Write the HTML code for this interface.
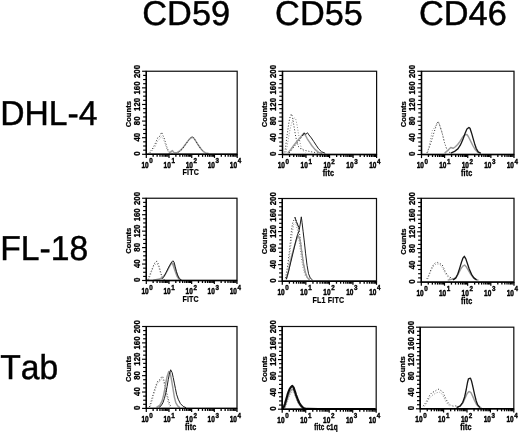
<!DOCTYPE html>
<html><head><meta charset="utf-8"><title>Figure</title>
<style>
html,body{margin:0;padding:0;background:#fff;}
body{width:520px;height:432px;overflow:hidden;}
svg{display:block;}
text{font-family:"Liberation Sans",sans-serif;fill:#000;}
.big{font-kerning:none;text-rendering:geometricPrecision;}
.tk{font-size:7.6px;font-weight:bold;stroke:#000;stroke-width:0.25px;}
.tx{font-size:8.6px;font-weight:bold;stroke:#000;stroke-width:0.45px;}
.sp{font-size:7.5px;font-weight:bold;stroke:#000;stroke-width:0.4px;}
.xl{font-weight:bold;stroke:#000;letter-spacing:0.2px;}
</style></head><body>
<svg width="520" height="432" viewBox="0 0 520 432">
<defs>
<filter id="bp" x="0" y="0" width="520" height="432" filterUnits="userSpaceOnUse"><feGaussianBlur stdDeviation="0.38"/></filter>
<filter id="bl" x="0" y="0" width="520" height="432" filterUnits="userSpaceOnUse"><feGaussianBlur stdDeviation="0.3"/></filter>
</defs>
<rect width="520" height="432" fill="#fff"/>
<g filter="url(#bp)">
<path d="M148.62,153.38 L150.92,150.62 L153.23,147.54 L155.54,142.92 L157.85,137.54 L159.38,136.77 L160.62,134.46 L161.69,132.15 L162.77,135.23 L164.00,137.54 L165.23,141.38 L166.77,146.77 L168.31,150.62 L170.15,152.62 L172.46,153.38" fill="none" stroke="#2e2e2e" stroke-width="1.0" stroke-dasharray="1.0 1.9" stroke-linejoin="round"/>
<path d="M150.15,152.92 L152.46,150.15 L155.08,146.77 L157.54,141.38 L159.38,139.08 L161.23,136.77 L163.08,138.31 L164.77,142.46 L166.31,147.54 L168.00,151.38 L170.15,153.23" fill="none" stroke="#909090" stroke-width="1.0" stroke-dasharray="1.0 1.7" stroke-linejoin="round"/>
<path d="M168.62,153.54 L170.92,151.69 L172.46,150.62 L174.00,152.62 L177.08,152.62 L180.15,150.62 L182.46,148.31 L184.77,145.23 L187.08,142.15 L189.38,139.08 L192.15,137.08 L194.00,138.31 L196.31,141.85 L198.62,145.54 L200.92,148.77 L203.23,151.38 L205.54,152.92 L208.62,153.54" fill="none" stroke="#9a9a9a" stroke-width="1.45" stroke-linejoin="round"/>
<path d="M178.62,152.31 L182.46,148.92 L185.54,144.46 L188.62,140.31 L190.92,137.54 L192.15,136.46 L193.54,137.54 L195.54,140.62 L197.85,144.46 L200.62,148.62 L203.69,152.00" fill="none" stroke="#262626" stroke-width="1.0" stroke-dasharray="1.1 2.0" stroke-linejoin="round"/>
<rect x="146.3" y="71.25" width="90.90" height="83.05" fill="none" stroke="#0a0a0a" stroke-width="1.2"/>
<line x1="146.3" y1="71.25" x2="146.3" y2="154.3" stroke="#000" stroke-width="1.4"/>
<line x1="145.8" y1="154.3" x2="237.2" y2="154.3" stroke="#000" stroke-width="1.4"/>
<line x1="142.10" y1="154.30" x2="146.3" y2="154.30" stroke="#000" stroke-width="1.15"/>
<line x1="143.10" y1="150.15" x2="146.3" y2="150.15" stroke="#000" stroke-width="1.15"/>
<line x1="143.10" y1="146.00" x2="146.3" y2="146.00" stroke="#000" stroke-width="1.15"/>
<line x1="143.10" y1="141.84" x2="146.3" y2="141.84" stroke="#000" stroke-width="1.15"/>
<line x1="142.10" y1="137.69" x2="146.3" y2="137.69" stroke="#000" stroke-width="1.15"/>
<line x1="143.10" y1="133.54" x2="146.3" y2="133.54" stroke="#000" stroke-width="1.15"/>
<line x1="143.10" y1="129.38" x2="146.3" y2="129.38" stroke="#000" stroke-width="1.15"/>
<line x1="143.10" y1="125.23" x2="146.3" y2="125.23" stroke="#000" stroke-width="1.15"/>
<line x1="142.10" y1="121.08" x2="146.3" y2="121.08" stroke="#000" stroke-width="1.15"/>
<line x1="143.10" y1="116.93" x2="146.3" y2="116.93" stroke="#000" stroke-width="1.15"/>
<line x1="143.10" y1="112.78" x2="146.3" y2="112.78" stroke="#000" stroke-width="1.15"/>
<line x1="143.10" y1="108.62" x2="146.3" y2="108.62" stroke="#000" stroke-width="1.15"/>
<line x1="142.10" y1="104.47" x2="146.3" y2="104.47" stroke="#000" stroke-width="1.15"/>
<line x1="143.10" y1="100.32" x2="146.3" y2="100.32" stroke="#000" stroke-width="1.15"/>
<line x1="143.10" y1="96.16" x2="146.3" y2="96.16" stroke="#000" stroke-width="1.15"/>
<line x1="143.10" y1="92.01" x2="146.3" y2="92.01" stroke="#000" stroke-width="1.15"/>
<line x1="142.10" y1="87.86" x2="146.3" y2="87.86" stroke="#000" stroke-width="1.15"/>
<line x1="143.10" y1="83.71" x2="146.3" y2="83.71" stroke="#000" stroke-width="1.15"/>
<line x1="143.10" y1="79.56" x2="146.3" y2="79.56" stroke="#000" stroke-width="1.15"/>
<line x1="143.10" y1="75.40" x2="146.3" y2="75.40" stroke="#000" stroke-width="1.15"/>
<line x1="142.10" y1="71.25" x2="146.3" y2="71.25" stroke="#000" stroke-width="1.15"/>
<text class="tk" transform="translate(139.60,153.70) rotate(-90) scale(1.03,1.12)" text-anchor="middle">0</text>
<text class="tk" transform="translate(139.60,137.27) rotate(-90) scale(1.03,1.12)" text-anchor="middle">40</text>
<text class="tk" transform="translate(139.60,120.84) rotate(-90) scale(1.03,1.12)" text-anchor="middle">80</text>
<text class="tk" transform="translate(139.60,104.41) rotate(-90) scale(1.03,1.12)" text-anchor="middle">120</text>
<text class="tk" transform="translate(139.60,87.98) rotate(-90) scale(1.03,1.12)" text-anchor="middle">160</text>
<text class="tk" transform="translate(139.60,71.55) rotate(-90) scale(1.03,1.12)" text-anchor="middle">200</text>
<text class="tk" transform="translate(130.70,114.18) rotate(-90) scale(1.0,0.9)" text-anchor="middle">Counts</text>
<line x1="146.30" y1="154.3" x2="146.30" y2="157.9" stroke="#000" stroke-width="1.2"/>
<line x1="153.14" y1="154.3" x2="153.14" y2="156.8" stroke="#000" stroke-width="1.3"/>
<line x1="157.14" y1="154.3" x2="157.14" y2="156.8" stroke="#000" stroke-width="1.3"/>
<line x1="159.98" y1="154.3" x2="159.98" y2="156.8" stroke="#000" stroke-width="1.3"/>
<line x1="162.18" y1="154.3" x2="162.18" y2="156.8" stroke="#000" stroke-width="1.3"/>
<line x1="163.98" y1="154.3" x2="163.98" y2="156.8" stroke="#000" stroke-width="1.3"/>
<line x1="165.50" y1="154.3" x2="165.50" y2="156.8" stroke="#000" stroke-width="1.3"/>
<line x1="166.82" y1="154.3" x2="166.82" y2="156.8" stroke="#000" stroke-width="1.3"/>
<line x1="167.99" y1="154.3" x2="167.99" y2="156.8" stroke="#000" stroke-width="1.3"/>
<text class="tx" transform="translate(148.70,167.70) scale(0.76,1)" text-anchor="end">10</text>
<text class="sp" transform="translate(149.30,163.40) scale(0.84,1)">0</text>
<line x1="169.03" y1="154.3" x2="169.03" y2="157.9" stroke="#000" stroke-width="1.2"/>
<line x1="175.87" y1="154.3" x2="175.87" y2="156.8" stroke="#000" stroke-width="1.3"/>
<line x1="179.87" y1="154.3" x2="179.87" y2="156.8" stroke="#000" stroke-width="1.3"/>
<line x1="182.71" y1="154.3" x2="182.71" y2="156.8" stroke="#000" stroke-width="1.3"/>
<line x1="184.91" y1="154.3" x2="184.91" y2="156.8" stroke="#000" stroke-width="1.3"/>
<line x1="186.71" y1="154.3" x2="186.71" y2="156.8" stroke="#000" stroke-width="1.3"/>
<line x1="188.23" y1="154.3" x2="188.23" y2="156.8" stroke="#000" stroke-width="1.3"/>
<line x1="189.55" y1="154.3" x2="189.55" y2="156.8" stroke="#000" stroke-width="1.3"/>
<line x1="190.71" y1="154.3" x2="190.71" y2="156.8" stroke="#000" stroke-width="1.3"/>
<text class="tx" transform="translate(170.80,167.70) scale(0.76,1)" text-anchor="end">10</text>
<text class="sp" transform="translate(171.40,163.40) scale(0.84,1)">1</text>
<line x1="191.75" y1="154.3" x2="191.75" y2="157.9" stroke="#000" stroke-width="1.2"/>
<line x1="198.59" y1="154.3" x2="198.59" y2="156.8" stroke="#000" stroke-width="1.3"/>
<line x1="202.59" y1="154.3" x2="202.59" y2="156.8" stroke="#000" stroke-width="1.3"/>
<line x1="205.43" y1="154.3" x2="205.43" y2="156.8" stroke="#000" stroke-width="1.3"/>
<line x1="207.63" y1="154.3" x2="207.63" y2="156.8" stroke="#000" stroke-width="1.3"/>
<line x1="209.43" y1="154.3" x2="209.43" y2="156.8" stroke="#000" stroke-width="1.3"/>
<line x1="210.95" y1="154.3" x2="210.95" y2="156.8" stroke="#000" stroke-width="1.3"/>
<line x1="212.27" y1="154.3" x2="212.27" y2="156.8" stroke="#000" stroke-width="1.3"/>
<line x1="213.44" y1="154.3" x2="213.44" y2="156.8" stroke="#000" stroke-width="1.3"/>
<text class="tx" transform="translate(192.90,167.70) scale(0.76,1)" text-anchor="end">10</text>
<text class="sp" transform="translate(193.50,163.40) scale(0.84,1)">2</text>
<line x1="214.47" y1="154.3" x2="214.47" y2="157.9" stroke="#000" stroke-width="1.2"/>
<line x1="221.32" y1="154.3" x2="221.32" y2="156.8" stroke="#000" stroke-width="1.3"/>
<line x1="225.32" y1="154.3" x2="225.32" y2="156.8" stroke="#000" stroke-width="1.3"/>
<line x1="228.16" y1="154.3" x2="228.16" y2="156.8" stroke="#000" stroke-width="1.3"/>
<line x1="230.36" y1="154.3" x2="230.36" y2="156.8" stroke="#000" stroke-width="1.3"/>
<line x1="232.16" y1="154.3" x2="232.16" y2="156.8" stroke="#000" stroke-width="1.3"/>
<line x1="233.68" y1="154.3" x2="233.68" y2="156.8" stroke="#000" stroke-width="1.3"/>
<line x1="235.00" y1="154.3" x2="235.00" y2="156.8" stroke="#000" stroke-width="1.3"/>
<line x1="236.16" y1="154.3" x2="236.16" y2="156.8" stroke="#000" stroke-width="1.3"/>
<text class="tx" transform="translate(215.00,167.70) scale(0.76,1)" text-anchor="end">10</text>
<text class="sp" transform="translate(215.60,163.40) scale(0.84,1)">3</text>
<line x1="237.20" y1="154.3" x2="237.20" y2="157.9" stroke="#000" stroke-width="1.2"/>
<text class="tx" transform="translate(237.10,167.70) scale(0.76,1)" text-anchor="end">10</text>
<text class="sp" transform="translate(237.70,163.40) scale(0.84,1)">4</text>
<text class="xl" font-size="8.6" stroke-width="0.2" transform="translate(190.75,175.30) scale(0.825,1)" text-anchor="middle">FITC</text>
<path d="M284.82,152.39 L285.78,145.76 L286.63,138.53 L287.83,130.10 L289.04,121.66 L290.24,116.24 L291.45,113.83 L292.41,116.84 L293.25,121.66 L294.22,127.69 L295.42,134.92 L296.87,142.14 L298.67,146.96 L301.08,149.13 L304.70,150.34 L308.92,151.30 L313.73,152.27 L318.55,152.99" fill="none" stroke="#2e2e2e" stroke-width="1.0" stroke-dasharray="1.0 1.9" stroke-linejoin="round"/>
<path d="M286.02,152.39 L287.23,145.76 L288.43,138.53 L289.64,131.30 L291.08,125.28 L292.65,120.46 L294.46,117.81 L295.66,118.65 L296.87,124.07 L298.07,131.30 L299.28,138.53 L300.72,145.76 L302.29,149.98 L305.30,152.39" fill="none" stroke="#909090" stroke-width="1.0" stroke-dasharray="1.0 1.7" stroke-linejoin="round"/>
<path d="M287.83,152.99 L290.84,149.37 L293.86,145.16 L296.87,141.54 L299.88,137.93 L302.29,134.92 L304.10,133.11 L305.54,135.52 L307.11,138.53 L309.52,142.14 L311.93,145.76 L314.94,149.37 L318.55,152.39 L322.17,153.23" fill="none" stroke="#9a9a9a" stroke-width="1.45" stroke-linejoin="round"/>
<path d="M289.04,152.99 L292.05,149.37 L295.66,144.55 L299.28,140.34 L302.29,136.12 L304.10,133.11" fill="none" stroke="#262626" stroke-width="1.0" stroke-dasharray="1.1 2.0" stroke-linejoin="round"/>
<path d="M302.29,136.12 L304.10,133.11 L305.90,134.31 L307.47,132.75 L308.92,134.92 L311.33,137.93 L313.73,141.54 L316.14,145.16 L318.55,148.77 L321.57,151.78 L325.18,153.23" fill="none" stroke="#1c1c1c" stroke-width="1.0" stroke-linejoin="round"/>
<rect x="282.5" y="71.25" width="94.10" height="83.25" fill="none" stroke="#0a0a0a" stroke-width="1.2"/>
<line x1="282.5" y1="71.25" x2="282.5" y2="154.5" stroke="#000" stroke-width="1.4"/>
<line x1="282.0" y1="154.5" x2="376.6" y2="154.5" stroke="#000" stroke-width="1.4"/>
<line x1="278.30" y1="154.50" x2="282.5" y2="154.50" stroke="#000" stroke-width="1.15"/>
<line x1="279.30" y1="150.34" x2="282.5" y2="150.34" stroke="#000" stroke-width="1.15"/>
<line x1="279.30" y1="146.18" x2="282.5" y2="146.18" stroke="#000" stroke-width="1.15"/>
<line x1="279.30" y1="142.01" x2="282.5" y2="142.01" stroke="#000" stroke-width="1.15"/>
<line x1="278.30" y1="137.85" x2="282.5" y2="137.85" stroke="#000" stroke-width="1.15"/>
<line x1="279.30" y1="133.69" x2="282.5" y2="133.69" stroke="#000" stroke-width="1.15"/>
<line x1="279.30" y1="129.53" x2="282.5" y2="129.53" stroke="#000" stroke-width="1.15"/>
<line x1="279.30" y1="125.36" x2="282.5" y2="125.36" stroke="#000" stroke-width="1.15"/>
<line x1="278.30" y1="121.20" x2="282.5" y2="121.20" stroke="#000" stroke-width="1.15"/>
<line x1="279.30" y1="117.04" x2="282.5" y2="117.04" stroke="#000" stroke-width="1.15"/>
<line x1="279.30" y1="112.88" x2="282.5" y2="112.88" stroke="#000" stroke-width="1.15"/>
<line x1="279.30" y1="108.71" x2="282.5" y2="108.71" stroke="#000" stroke-width="1.15"/>
<line x1="278.30" y1="104.55" x2="282.5" y2="104.55" stroke="#000" stroke-width="1.15"/>
<line x1="279.30" y1="100.39" x2="282.5" y2="100.39" stroke="#000" stroke-width="1.15"/>
<line x1="279.30" y1="96.22" x2="282.5" y2="96.22" stroke="#000" stroke-width="1.15"/>
<line x1="279.30" y1="92.06" x2="282.5" y2="92.06" stroke="#000" stroke-width="1.15"/>
<line x1="278.30" y1="87.90" x2="282.5" y2="87.90" stroke="#000" stroke-width="1.15"/>
<line x1="279.30" y1="83.74" x2="282.5" y2="83.74" stroke="#000" stroke-width="1.15"/>
<line x1="279.30" y1="79.58" x2="282.5" y2="79.58" stroke="#000" stroke-width="1.15"/>
<line x1="279.30" y1="75.41" x2="282.5" y2="75.41" stroke="#000" stroke-width="1.15"/>
<line x1="278.30" y1="71.25" x2="282.5" y2="71.25" stroke="#000" stroke-width="1.15"/>
<text class="tk" transform="translate(275.80,153.90) rotate(-90) scale(1.03,1.12)" text-anchor="middle">0</text>
<text class="tk" transform="translate(275.80,137.43) rotate(-90) scale(1.03,1.12)" text-anchor="middle">40</text>
<text class="tk" transform="translate(275.80,120.96) rotate(-90) scale(1.03,1.12)" text-anchor="middle">80</text>
<text class="tk" transform="translate(275.80,104.49) rotate(-90) scale(1.03,1.12)" text-anchor="middle">120</text>
<text class="tk" transform="translate(275.80,88.02) rotate(-90) scale(1.03,1.12)" text-anchor="middle">160</text>
<text class="tk" transform="translate(275.80,71.55) rotate(-90) scale(1.03,1.12)" text-anchor="middle">200</text>
<text class="tk" transform="translate(266.90,114.28) rotate(-90) scale(1.0,0.9)" text-anchor="middle">Counts</text>
<line x1="282.50" y1="154.5" x2="282.50" y2="158.1" stroke="#000" stroke-width="1.2"/>
<line x1="289.58" y1="154.5" x2="289.58" y2="157.0" stroke="#000" stroke-width="1.3"/>
<line x1="293.72" y1="154.5" x2="293.72" y2="157.0" stroke="#000" stroke-width="1.3"/>
<line x1="296.66" y1="154.5" x2="296.66" y2="157.0" stroke="#000" stroke-width="1.3"/>
<line x1="298.94" y1="154.5" x2="298.94" y2="157.0" stroke="#000" stroke-width="1.3"/>
<line x1="300.81" y1="154.5" x2="300.81" y2="157.0" stroke="#000" stroke-width="1.3"/>
<line x1="302.38" y1="154.5" x2="302.38" y2="157.0" stroke="#000" stroke-width="1.3"/>
<line x1="303.75" y1="154.5" x2="303.75" y2="157.0" stroke="#000" stroke-width="1.3"/>
<line x1="304.95" y1="154.5" x2="304.95" y2="157.0" stroke="#000" stroke-width="1.3"/>
<text class="tx" transform="translate(284.90,167.90) scale(0.76,1)" text-anchor="end">10</text>
<text class="sp" transform="translate(285.50,163.60) scale(0.84,1)">0</text>
<line x1="306.02" y1="154.5" x2="306.02" y2="158.1" stroke="#000" stroke-width="1.2"/>
<line x1="313.11" y1="154.5" x2="313.11" y2="157.0" stroke="#000" stroke-width="1.3"/>
<line x1="317.25" y1="154.5" x2="317.25" y2="157.0" stroke="#000" stroke-width="1.3"/>
<line x1="320.19" y1="154.5" x2="320.19" y2="157.0" stroke="#000" stroke-width="1.3"/>
<line x1="322.47" y1="154.5" x2="322.47" y2="157.0" stroke="#000" stroke-width="1.3"/>
<line x1="324.33" y1="154.5" x2="324.33" y2="157.0" stroke="#000" stroke-width="1.3"/>
<line x1="325.91" y1="154.5" x2="325.91" y2="157.0" stroke="#000" stroke-width="1.3"/>
<line x1="327.27" y1="154.5" x2="327.27" y2="157.0" stroke="#000" stroke-width="1.3"/>
<line x1="328.47" y1="154.5" x2="328.47" y2="157.0" stroke="#000" stroke-width="1.3"/>
<text class="tx" transform="translate(307.80,167.90) scale(0.76,1)" text-anchor="end">10</text>
<text class="sp" transform="translate(308.40,163.60) scale(0.84,1)">1</text>
<line x1="329.55" y1="154.5" x2="329.55" y2="158.1" stroke="#000" stroke-width="1.2"/>
<line x1="336.63" y1="154.5" x2="336.63" y2="157.0" stroke="#000" stroke-width="1.3"/>
<line x1="340.77" y1="154.5" x2="340.77" y2="157.0" stroke="#000" stroke-width="1.3"/>
<line x1="343.71" y1="154.5" x2="343.71" y2="157.0" stroke="#000" stroke-width="1.3"/>
<line x1="345.99" y1="154.5" x2="345.99" y2="157.0" stroke="#000" stroke-width="1.3"/>
<line x1="347.86" y1="154.5" x2="347.86" y2="157.0" stroke="#000" stroke-width="1.3"/>
<line x1="349.43" y1="154.5" x2="349.43" y2="157.0" stroke="#000" stroke-width="1.3"/>
<line x1="350.80" y1="154.5" x2="350.80" y2="157.0" stroke="#000" stroke-width="1.3"/>
<line x1="352.00" y1="154.5" x2="352.00" y2="157.0" stroke="#000" stroke-width="1.3"/>
<text class="tx" transform="translate(330.70,167.90) scale(0.76,1)" text-anchor="end">10</text>
<text class="sp" transform="translate(331.30,163.60) scale(0.84,1)">2</text>
<line x1="353.08" y1="154.5" x2="353.08" y2="158.1" stroke="#000" stroke-width="1.2"/>
<line x1="360.16" y1="154.5" x2="360.16" y2="157.0" stroke="#000" stroke-width="1.3"/>
<line x1="364.30" y1="154.5" x2="364.30" y2="157.0" stroke="#000" stroke-width="1.3"/>
<line x1="367.24" y1="154.5" x2="367.24" y2="157.0" stroke="#000" stroke-width="1.3"/>
<line x1="369.52" y1="154.5" x2="369.52" y2="157.0" stroke="#000" stroke-width="1.3"/>
<line x1="371.38" y1="154.5" x2="371.38" y2="157.0" stroke="#000" stroke-width="1.3"/>
<line x1="372.96" y1="154.5" x2="372.96" y2="157.0" stroke="#000" stroke-width="1.3"/>
<line x1="374.32" y1="154.5" x2="374.32" y2="157.0" stroke="#000" stroke-width="1.3"/>
<line x1="375.52" y1="154.5" x2="375.52" y2="157.0" stroke="#000" stroke-width="1.3"/>
<text class="tx" transform="translate(353.60,167.90) scale(0.76,1)" text-anchor="end">10</text>
<text class="sp" transform="translate(354.20,163.60) scale(0.84,1)">3</text>
<line x1="376.60" y1="154.5" x2="376.60" y2="158.1" stroke="#000" stroke-width="1.2"/>
<text class="tx" transform="translate(376.50,167.90) scale(0.76,1)" text-anchor="end">10</text>
<text class="sp" transform="translate(377.10,163.60) scale(0.84,1)">4</text>
<text class="xl" font-size="8.3" stroke-width="0.35" transform="translate(328.55,175.70) scale(0.87,1)" text-anchor="middle">fitc</text>
<path d="M426.92,152.92 L429.23,147.54 L431.54,140.62 L433.85,132.92 L436.15,126.00 L438.15,121.38 L439.69,125.23 L441.54,130.62 L443.08,136.77 L444.62,142.92 L446.46,148.31 L448.46,151.85 L450.77,153.08" fill="none" stroke="#2e2e2e" stroke-width="1.0" stroke-dasharray="1.0 1.9" stroke-linejoin="round"/>
<path d="M427.69,152.15 L429.54,144.46 L431.08,136.77 L432.31,130.62 L434.62,127.54 L436.92,122.92 L438.77,122.15 L440.77,129.08 L442.77,135.23 L444.31,142.15 L446.15,147.54 L448.00,151.54" fill="none" stroke="#909090" stroke-width="1.0" stroke-dasharray="1.0 1.7" stroke-linejoin="round"/>
<path d="M444.62,153.08 L448.46,149.85 L450.77,147.54 L453.08,148.31 L455.38,146.77 L457.69,144.46 L460.00,141.38 L462.31,137.54 L464.62,134.92 L466.92,134.46 L468.46,136.77 L470.77,141.38 L473.08,146.00 L475.38,149.85 L477.69,152.15 L480.77,153.23" fill="none" stroke="#9a9a9a" stroke-width="1.45" stroke-linejoin="round"/>
<path d="M450.77,153.08 L454.62,151.38 L457.69,149.08 L460.31,145.23 L462.77,139.85 L464.92,133.69 L466.92,129.08 L468.92,127.54 L470.00,128.31 L471.54,132.92 L473.08,138.31 L474.62,143.69 L476.15,148.31 L478.15,151.85 L480.77,153.23" fill="none" stroke="#141414" stroke-width="1.3" stroke-linejoin="round"/>
<rect x="421.5" y="71.25" width="92.50" height="83.25" fill="none" stroke="#0a0a0a" stroke-width="1.2"/>
<line x1="421.5" y1="71.25" x2="421.5" y2="154.5" stroke="#000" stroke-width="1.4"/>
<line x1="421.0" y1="154.5" x2="514.0" y2="154.5" stroke="#000" stroke-width="1.4"/>
<line x1="417.30" y1="154.50" x2="421.5" y2="154.50" stroke="#000" stroke-width="1.15"/>
<line x1="418.30" y1="150.34" x2="421.5" y2="150.34" stroke="#000" stroke-width="1.15"/>
<line x1="418.30" y1="146.18" x2="421.5" y2="146.18" stroke="#000" stroke-width="1.15"/>
<line x1="418.30" y1="142.01" x2="421.5" y2="142.01" stroke="#000" stroke-width="1.15"/>
<line x1="417.30" y1="137.85" x2="421.5" y2="137.85" stroke="#000" stroke-width="1.15"/>
<line x1="418.30" y1="133.69" x2="421.5" y2="133.69" stroke="#000" stroke-width="1.15"/>
<line x1="418.30" y1="129.53" x2="421.5" y2="129.53" stroke="#000" stroke-width="1.15"/>
<line x1="418.30" y1="125.36" x2="421.5" y2="125.36" stroke="#000" stroke-width="1.15"/>
<line x1="417.30" y1="121.20" x2="421.5" y2="121.20" stroke="#000" stroke-width="1.15"/>
<line x1="418.30" y1="117.04" x2="421.5" y2="117.04" stroke="#000" stroke-width="1.15"/>
<line x1="418.30" y1="112.88" x2="421.5" y2="112.88" stroke="#000" stroke-width="1.15"/>
<line x1="418.30" y1="108.71" x2="421.5" y2="108.71" stroke="#000" stroke-width="1.15"/>
<line x1="417.30" y1="104.55" x2="421.5" y2="104.55" stroke="#000" stroke-width="1.15"/>
<line x1="418.30" y1="100.39" x2="421.5" y2="100.39" stroke="#000" stroke-width="1.15"/>
<line x1="418.30" y1="96.22" x2="421.5" y2="96.22" stroke="#000" stroke-width="1.15"/>
<line x1="418.30" y1="92.06" x2="421.5" y2="92.06" stroke="#000" stroke-width="1.15"/>
<line x1="417.30" y1="87.90" x2="421.5" y2="87.90" stroke="#000" stroke-width="1.15"/>
<line x1="418.30" y1="83.74" x2="421.5" y2="83.74" stroke="#000" stroke-width="1.15"/>
<line x1="418.30" y1="79.58" x2="421.5" y2="79.58" stroke="#000" stroke-width="1.15"/>
<line x1="418.30" y1="75.41" x2="421.5" y2="75.41" stroke="#000" stroke-width="1.15"/>
<line x1="417.30" y1="71.25" x2="421.5" y2="71.25" stroke="#000" stroke-width="1.15"/>
<text class="tk" transform="translate(414.80,153.90) rotate(-90) scale(1.03,1.12)" text-anchor="middle">0</text>
<text class="tk" transform="translate(414.80,137.43) rotate(-90) scale(1.03,1.12)" text-anchor="middle">40</text>
<text class="tk" transform="translate(414.80,120.96) rotate(-90) scale(1.03,1.12)" text-anchor="middle">80</text>
<text class="tk" transform="translate(414.80,104.49) rotate(-90) scale(1.03,1.12)" text-anchor="middle">120</text>
<text class="tk" transform="translate(414.80,88.02) rotate(-90) scale(1.03,1.12)" text-anchor="middle">160</text>
<text class="tk" transform="translate(414.80,71.55) rotate(-90) scale(1.03,1.12)" text-anchor="middle">200</text>
<text class="tk" transform="translate(405.90,114.28) rotate(-90) scale(1.0,0.9)" text-anchor="middle">Counts</text>
<line x1="421.50" y1="154.5" x2="421.50" y2="158.1" stroke="#000" stroke-width="1.2"/>
<line x1="428.46" y1="154.5" x2="428.46" y2="157.0" stroke="#000" stroke-width="1.3"/>
<line x1="432.53" y1="154.5" x2="432.53" y2="157.0" stroke="#000" stroke-width="1.3"/>
<line x1="435.42" y1="154.5" x2="435.42" y2="157.0" stroke="#000" stroke-width="1.3"/>
<line x1="437.66" y1="154.5" x2="437.66" y2="157.0" stroke="#000" stroke-width="1.3"/>
<line x1="439.49" y1="154.5" x2="439.49" y2="157.0" stroke="#000" stroke-width="1.3"/>
<line x1="441.04" y1="154.5" x2="441.04" y2="157.0" stroke="#000" stroke-width="1.3"/>
<line x1="442.38" y1="154.5" x2="442.38" y2="157.0" stroke="#000" stroke-width="1.3"/>
<line x1="443.57" y1="154.5" x2="443.57" y2="157.0" stroke="#000" stroke-width="1.3"/>
<text class="tx" transform="translate(423.90,167.90) scale(0.76,1)" text-anchor="end">10</text>
<text class="sp" transform="translate(424.50,163.60) scale(0.84,1)">0</text>
<line x1="444.62" y1="154.5" x2="444.62" y2="158.1" stroke="#000" stroke-width="1.2"/>
<line x1="451.59" y1="154.5" x2="451.59" y2="157.0" stroke="#000" stroke-width="1.3"/>
<line x1="455.66" y1="154.5" x2="455.66" y2="157.0" stroke="#000" stroke-width="1.3"/>
<line x1="458.55" y1="154.5" x2="458.55" y2="157.0" stroke="#000" stroke-width="1.3"/>
<line x1="460.79" y1="154.5" x2="460.79" y2="157.0" stroke="#000" stroke-width="1.3"/>
<line x1="462.62" y1="154.5" x2="462.62" y2="157.0" stroke="#000" stroke-width="1.3"/>
<line x1="464.17" y1="154.5" x2="464.17" y2="157.0" stroke="#000" stroke-width="1.3"/>
<line x1="465.51" y1="154.5" x2="465.51" y2="157.0" stroke="#000" stroke-width="1.3"/>
<line x1="466.69" y1="154.5" x2="466.69" y2="157.0" stroke="#000" stroke-width="1.3"/>
<text class="tx" transform="translate(446.40,167.90) scale(0.76,1)" text-anchor="end">10</text>
<text class="sp" transform="translate(447.00,163.60) scale(0.84,1)">1</text>
<line x1="467.75" y1="154.5" x2="467.75" y2="158.1" stroke="#000" stroke-width="1.2"/>
<line x1="474.71" y1="154.5" x2="474.71" y2="157.0" stroke="#000" stroke-width="1.3"/>
<line x1="478.78" y1="154.5" x2="478.78" y2="157.0" stroke="#000" stroke-width="1.3"/>
<line x1="481.67" y1="154.5" x2="481.67" y2="157.0" stroke="#000" stroke-width="1.3"/>
<line x1="483.91" y1="154.5" x2="483.91" y2="157.0" stroke="#000" stroke-width="1.3"/>
<line x1="485.74" y1="154.5" x2="485.74" y2="157.0" stroke="#000" stroke-width="1.3"/>
<line x1="487.29" y1="154.5" x2="487.29" y2="157.0" stroke="#000" stroke-width="1.3"/>
<line x1="488.63" y1="154.5" x2="488.63" y2="157.0" stroke="#000" stroke-width="1.3"/>
<line x1="489.82" y1="154.5" x2="489.82" y2="157.0" stroke="#000" stroke-width="1.3"/>
<text class="tx" transform="translate(468.90,167.90) scale(0.76,1)" text-anchor="end">10</text>
<text class="sp" transform="translate(469.50,163.60) scale(0.84,1)">2</text>
<line x1="490.88" y1="154.5" x2="490.88" y2="158.1" stroke="#000" stroke-width="1.2"/>
<line x1="497.84" y1="154.5" x2="497.84" y2="157.0" stroke="#000" stroke-width="1.3"/>
<line x1="501.91" y1="154.5" x2="501.91" y2="157.0" stroke="#000" stroke-width="1.3"/>
<line x1="504.80" y1="154.5" x2="504.80" y2="157.0" stroke="#000" stroke-width="1.3"/>
<line x1="507.04" y1="154.5" x2="507.04" y2="157.0" stroke="#000" stroke-width="1.3"/>
<line x1="508.87" y1="154.5" x2="508.87" y2="157.0" stroke="#000" stroke-width="1.3"/>
<line x1="510.42" y1="154.5" x2="510.42" y2="157.0" stroke="#000" stroke-width="1.3"/>
<line x1="511.76" y1="154.5" x2="511.76" y2="157.0" stroke="#000" stroke-width="1.3"/>
<line x1="512.94" y1="154.5" x2="512.94" y2="157.0" stroke="#000" stroke-width="1.3"/>
<text class="tx" transform="translate(491.40,167.90) scale(0.76,1)" text-anchor="end">10</text>
<text class="sp" transform="translate(492.00,163.60) scale(0.84,1)">3</text>
<line x1="514.00" y1="154.5" x2="514.00" y2="158.1" stroke="#000" stroke-width="1.2"/>
<text class="tx" transform="translate(513.90,167.90) scale(0.76,1)" text-anchor="end">10</text>
<text class="sp" transform="translate(514.50,163.60) scale(0.84,1)">4</text>
<text class="xl" font-size="8.3" stroke-width="0.35" transform="translate(466.75,175.80) scale(0.87,1)" text-anchor="middle">fitc</text>
<path d="M147.85,279.69 L149.38,275.85 L150.92,272.00 L152.46,268.15 L154.00,264.31 L155.54,261.69 L157.08,261.23 L158.15,263.54 L159.38,267.38 L160.62,272.00 L161.85,275.85 L163.23,278.62 L164.77,280.00" fill="none" stroke="#2e2e2e" stroke-width="1.0" stroke-dasharray="1.0 1.9" stroke-linejoin="round"/>
<path d="M148.62,279.85 L150.46,275.08 L152.00,270.46 L153.54,266.62 L155.38,264.31 L157.23,263.85 L158.77,267.38 L160.31,272.77 L161.85,277.08 L163.69,279.54" fill="none" stroke="#909090" stroke-width="1.0" stroke-dasharray="1.0 1.7" stroke-linejoin="round"/>
<path d="M153.23,280.15 L159.38,279.08 L162.46,277.38 L164.77,275.08 L167.08,271.23 L169.38,266.62 L171.69,262.77 L173.23,263.54 L174.77,267.38 L176.31,272.00 L177.85,276.15 L179.69,278.92 L181.69,280.31" fill="none" stroke="#9a9a9a" stroke-width="1.45" stroke-linejoin="round"/>
<path d="M172.46,263.54 L174.15,268.15 L175.69,272.77 L177.23,276.62 L179.08,279.38" fill="none" stroke="#9a9a9a" stroke-width="1.45" stroke-linejoin="round"/>
<path d="M161.69,279.08 L164.00,276.62 L166.00,272.77 L167.85,268.92 L169.85,265.08 L171.69,262.00 L172.92,260.77 L174.00,262.00 L175.23,266.62 L176.31,271.23 L177.54,275.08 L179.08,278.31 L180.92,280.15" fill="none" stroke="#1c1c1c" stroke-width="1.0" stroke-linejoin="round"/>
<rect x="146.3" y="198.25" width="90.70" height="82.25" fill="none" stroke="#0a0a0a" stroke-width="1.2"/>
<line x1="146.3" y1="198.25" x2="146.3" y2="280.5" stroke="#000" stroke-width="1.4"/>
<line x1="145.8" y1="280.5" x2="237.0" y2="280.5" stroke="#000" stroke-width="1.4"/>
<line x1="142.10" y1="280.50" x2="146.3" y2="280.50" stroke="#000" stroke-width="1.15"/>
<line x1="143.10" y1="276.39" x2="146.3" y2="276.39" stroke="#000" stroke-width="1.15"/>
<line x1="143.10" y1="272.27" x2="146.3" y2="272.27" stroke="#000" stroke-width="1.15"/>
<line x1="143.10" y1="268.16" x2="146.3" y2="268.16" stroke="#000" stroke-width="1.15"/>
<line x1="142.10" y1="264.05" x2="146.3" y2="264.05" stroke="#000" stroke-width="1.15"/>
<line x1="143.10" y1="259.94" x2="146.3" y2="259.94" stroke="#000" stroke-width="1.15"/>
<line x1="143.10" y1="255.82" x2="146.3" y2="255.82" stroke="#000" stroke-width="1.15"/>
<line x1="143.10" y1="251.71" x2="146.3" y2="251.71" stroke="#000" stroke-width="1.15"/>
<line x1="142.10" y1="247.60" x2="146.3" y2="247.60" stroke="#000" stroke-width="1.15"/>
<line x1="143.10" y1="243.49" x2="146.3" y2="243.49" stroke="#000" stroke-width="1.15"/>
<line x1="143.10" y1="239.38" x2="146.3" y2="239.38" stroke="#000" stroke-width="1.15"/>
<line x1="143.10" y1="235.26" x2="146.3" y2="235.26" stroke="#000" stroke-width="1.15"/>
<line x1="142.10" y1="231.15" x2="146.3" y2="231.15" stroke="#000" stroke-width="1.15"/>
<line x1="143.10" y1="227.04" x2="146.3" y2="227.04" stroke="#000" stroke-width="1.15"/>
<line x1="143.10" y1="222.93" x2="146.3" y2="222.93" stroke="#000" stroke-width="1.15"/>
<line x1="143.10" y1="218.81" x2="146.3" y2="218.81" stroke="#000" stroke-width="1.15"/>
<line x1="142.10" y1="214.70" x2="146.3" y2="214.70" stroke="#000" stroke-width="1.15"/>
<line x1="143.10" y1="210.59" x2="146.3" y2="210.59" stroke="#000" stroke-width="1.15"/>
<line x1="143.10" y1="206.47" x2="146.3" y2="206.47" stroke="#000" stroke-width="1.15"/>
<line x1="143.10" y1="202.36" x2="146.3" y2="202.36" stroke="#000" stroke-width="1.15"/>
<line x1="142.10" y1="198.25" x2="146.3" y2="198.25" stroke="#000" stroke-width="1.15"/>
<text class="tk" transform="translate(139.60,279.90) rotate(-90) scale(1.03,1.12)" text-anchor="middle">0</text>
<text class="tk" transform="translate(139.60,263.63) rotate(-90) scale(1.03,1.12)" text-anchor="middle">40</text>
<text class="tk" transform="translate(139.60,247.36) rotate(-90) scale(1.03,1.12)" text-anchor="middle">80</text>
<text class="tk" transform="translate(139.60,231.09) rotate(-90) scale(1.03,1.12)" text-anchor="middle">120</text>
<text class="tk" transform="translate(139.60,214.82) rotate(-90) scale(1.03,1.12)" text-anchor="middle">160</text>
<text class="tk" transform="translate(139.60,198.55) rotate(-90) scale(1.03,1.12)" text-anchor="middle">200</text>
<text class="tk" transform="translate(130.70,240.78) rotate(-90) scale(1.0,0.9)" text-anchor="middle">Counts</text>
<line x1="146.30" y1="280.5" x2="146.30" y2="284.1" stroke="#000" stroke-width="1.2"/>
<line x1="153.13" y1="280.5" x2="153.13" y2="283.0" stroke="#000" stroke-width="1.3"/>
<line x1="157.12" y1="280.5" x2="157.12" y2="283.0" stroke="#000" stroke-width="1.3"/>
<line x1="159.95" y1="280.5" x2="159.95" y2="283.0" stroke="#000" stroke-width="1.3"/>
<line x1="162.15" y1="280.5" x2="162.15" y2="283.0" stroke="#000" stroke-width="1.3"/>
<line x1="163.94" y1="280.5" x2="163.94" y2="283.0" stroke="#000" stroke-width="1.3"/>
<line x1="165.46" y1="280.5" x2="165.46" y2="283.0" stroke="#000" stroke-width="1.3"/>
<line x1="166.78" y1="280.5" x2="166.78" y2="283.0" stroke="#000" stroke-width="1.3"/>
<line x1="167.94" y1="280.5" x2="167.94" y2="283.0" stroke="#000" stroke-width="1.3"/>
<text class="tx" transform="translate(148.70,293.90) scale(0.76,1)" text-anchor="end">10</text>
<text class="sp" transform="translate(149.30,289.60) scale(0.84,1)">0</text>
<line x1="168.98" y1="280.5" x2="168.98" y2="284.1" stroke="#000" stroke-width="1.2"/>
<line x1="175.80" y1="280.5" x2="175.80" y2="283.0" stroke="#000" stroke-width="1.3"/>
<line x1="179.79" y1="280.5" x2="179.79" y2="283.0" stroke="#000" stroke-width="1.3"/>
<line x1="182.63" y1="280.5" x2="182.63" y2="283.0" stroke="#000" stroke-width="1.3"/>
<line x1="184.82" y1="280.5" x2="184.82" y2="283.0" stroke="#000" stroke-width="1.3"/>
<line x1="186.62" y1="280.5" x2="186.62" y2="283.0" stroke="#000" stroke-width="1.3"/>
<line x1="188.14" y1="280.5" x2="188.14" y2="283.0" stroke="#000" stroke-width="1.3"/>
<line x1="189.45" y1="280.5" x2="189.45" y2="283.0" stroke="#000" stroke-width="1.3"/>
<line x1="190.61" y1="280.5" x2="190.61" y2="283.0" stroke="#000" stroke-width="1.3"/>
<text class="tx" transform="translate(170.75,293.90) scale(0.76,1)" text-anchor="end">10</text>
<text class="sp" transform="translate(171.35,289.60) scale(0.84,1)">1</text>
<line x1="191.65" y1="280.5" x2="191.65" y2="284.1" stroke="#000" stroke-width="1.2"/>
<line x1="198.48" y1="280.5" x2="198.48" y2="283.0" stroke="#000" stroke-width="1.3"/>
<line x1="202.47" y1="280.5" x2="202.47" y2="283.0" stroke="#000" stroke-width="1.3"/>
<line x1="205.30" y1="280.5" x2="205.30" y2="283.0" stroke="#000" stroke-width="1.3"/>
<line x1="207.50" y1="280.5" x2="207.50" y2="283.0" stroke="#000" stroke-width="1.3"/>
<line x1="209.29" y1="280.5" x2="209.29" y2="283.0" stroke="#000" stroke-width="1.3"/>
<line x1="210.81" y1="280.5" x2="210.81" y2="283.0" stroke="#000" stroke-width="1.3"/>
<line x1="212.13" y1="280.5" x2="212.13" y2="283.0" stroke="#000" stroke-width="1.3"/>
<line x1="213.29" y1="280.5" x2="213.29" y2="283.0" stroke="#000" stroke-width="1.3"/>
<text class="tx" transform="translate(192.80,293.90) scale(0.76,1)" text-anchor="end">10</text>
<text class="sp" transform="translate(193.40,289.60) scale(0.84,1)">2</text>
<line x1="214.32" y1="280.5" x2="214.32" y2="284.1" stroke="#000" stroke-width="1.2"/>
<line x1="221.15" y1="280.5" x2="221.15" y2="283.0" stroke="#000" stroke-width="1.3"/>
<line x1="225.14" y1="280.5" x2="225.14" y2="283.0" stroke="#000" stroke-width="1.3"/>
<line x1="227.98" y1="280.5" x2="227.98" y2="283.0" stroke="#000" stroke-width="1.3"/>
<line x1="230.17" y1="280.5" x2="230.17" y2="283.0" stroke="#000" stroke-width="1.3"/>
<line x1="231.97" y1="280.5" x2="231.97" y2="283.0" stroke="#000" stroke-width="1.3"/>
<line x1="233.49" y1="280.5" x2="233.49" y2="283.0" stroke="#000" stroke-width="1.3"/>
<line x1="234.80" y1="280.5" x2="234.80" y2="283.0" stroke="#000" stroke-width="1.3"/>
<line x1="235.96" y1="280.5" x2="235.96" y2="283.0" stroke="#000" stroke-width="1.3"/>
<text class="tx" transform="translate(214.85,293.90) scale(0.76,1)" text-anchor="end">10</text>
<text class="sp" transform="translate(215.45,289.60) scale(0.84,1)">3</text>
<line x1="237.00" y1="280.5" x2="237.00" y2="284.1" stroke="#000" stroke-width="1.2"/>
<text class="tx" transform="translate(236.90,293.90) scale(0.76,1)" text-anchor="end">10</text>
<text class="sp" transform="translate(237.50,289.60) scale(0.84,1)">4</text>
<text class="xl" font-size="8.6" stroke-width="0.2" transform="translate(190.65,302.30) scale(0.825,1)" text-anchor="middle">FITC</text>
<path d="M285.42,278.20 L286.86,270.98 L288.12,261.96 L289.39,251.13 L290.47,240.30 L291.55,229.47 L292.64,223.15 L294.80,217.73 L296.25,221.34 L298.05,226.76 L299.49,233.08 L300.76,242.10 L302.02,252.93 L303.47,263.76 L305.27,272.79 L307.44,277.84 L310.69,279.83" fill="none" stroke="#2e2e2e" stroke-width="1.0" stroke-dasharray="1.0 1.9" stroke-linejoin="round"/>
<path d="M286.32,278.20 L287.94,269.18 L289.39,258.35 L290.83,245.71 L292.27,233.08 L293.72,224.05 L295.52,222.25 L297.33,229.47 L298.77,238.49 L300.22,249.32 L301.66,260.15 L303.47,270.08 L305.63,276.76" fill="none" stroke="#909090" stroke-width="1.0" stroke-dasharray="1.0 1.7" stroke-linejoin="round"/>
<path d="M286.32,279.29 L288.12,272.79 L289.93,263.76 L291.73,255.64 L294.08,247.52 L296.25,240.30 L298.05,235.78 L299.49,237.59 L300.76,244.81 L302.02,253.83 L303.47,263.76 L305.27,271.88 L307.08,277.30 L309.24,279.65" fill="none" stroke="#9a9a9a" stroke-width="1.45" stroke-linejoin="round"/>
<path d="M286.32,279.29 L288.66,270.98 L290.83,261.96 L293.00,252.93 L295.34,243.00 L297.15,235.78 L298.95,231.27 L300.22,224.05 L301.30,216.83 L302.02,222.25 L303.10,231.27 L304.37,242.10 L305.63,253.83 L307.08,265.57 L308.52,273.69 L310.32,278.20 L312.49,279.83" fill="none" stroke="#1c1c1c" stroke-width="1.0" stroke-linejoin="round"/>
<path d="M294.90,217.00 L296.40,221.50 L298.20,225.80 L299.70,229.00" fill="none" stroke="#1c1c1c" stroke-width="1.0" stroke-linejoin="round"/>
<rect x="282.3" y="198.5" width="94.20" height="82.70" fill="none" stroke="#0a0a0a" stroke-width="1.2"/>
<line x1="282.3" y1="198.5" x2="282.3" y2="281.2" stroke="#000" stroke-width="1.4"/>
<line x1="281.8" y1="281.2" x2="376.5" y2="281.2" stroke="#000" stroke-width="1.4"/>
<line x1="278.10" y1="281.20" x2="282.3" y2="281.20" stroke="#000" stroke-width="1.15"/>
<line x1="279.10" y1="277.06" x2="282.3" y2="277.06" stroke="#000" stroke-width="1.15"/>
<line x1="279.10" y1="272.93" x2="282.3" y2="272.93" stroke="#000" stroke-width="1.15"/>
<line x1="279.10" y1="268.80" x2="282.3" y2="268.80" stroke="#000" stroke-width="1.15"/>
<line x1="278.10" y1="264.66" x2="282.3" y2="264.66" stroke="#000" stroke-width="1.15"/>
<line x1="279.10" y1="260.52" x2="282.3" y2="260.52" stroke="#000" stroke-width="1.15"/>
<line x1="279.10" y1="256.39" x2="282.3" y2="256.39" stroke="#000" stroke-width="1.15"/>
<line x1="279.10" y1="252.25" x2="282.3" y2="252.25" stroke="#000" stroke-width="1.15"/>
<line x1="278.10" y1="248.12" x2="282.3" y2="248.12" stroke="#000" stroke-width="1.15"/>
<line x1="279.10" y1="243.98" x2="282.3" y2="243.98" stroke="#000" stroke-width="1.15"/>
<line x1="279.10" y1="239.85" x2="282.3" y2="239.85" stroke="#000" stroke-width="1.15"/>
<line x1="279.10" y1="235.72" x2="282.3" y2="235.72" stroke="#000" stroke-width="1.15"/>
<line x1="278.10" y1="231.58" x2="282.3" y2="231.58" stroke="#000" stroke-width="1.15"/>
<line x1="279.10" y1="227.44" x2="282.3" y2="227.44" stroke="#000" stroke-width="1.15"/>
<line x1="279.10" y1="223.31" x2="282.3" y2="223.31" stroke="#000" stroke-width="1.15"/>
<line x1="279.10" y1="219.18" x2="282.3" y2="219.18" stroke="#000" stroke-width="1.15"/>
<line x1="278.10" y1="215.04" x2="282.3" y2="215.04" stroke="#000" stroke-width="1.15"/>
<line x1="279.10" y1="210.91" x2="282.3" y2="210.91" stroke="#000" stroke-width="1.15"/>
<line x1="279.10" y1="206.77" x2="282.3" y2="206.77" stroke="#000" stroke-width="1.15"/>
<line x1="279.10" y1="202.63" x2="282.3" y2="202.63" stroke="#000" stroke-width="1.15"/>
<line x1="278.10" y1="198.50" x2="282.3" y2="198.50" stroke="#000" stroke-width="1.15"/>
<text class="tk" transform="translate(275.60,280.60) rotate(-90) scale(1.03,1.12)" text-anchor="middle">0</text>
<text class="tk" transform="translate(275.60,264.24) rotate(-90) scale(1.03,1.12)" text-anchor="middle">40</text>
<text class="tk" transform="translate(275.60,247.88) rotate(-90) scale(1.03,1.12)" text-anchor="middle">80</text>
<text class="tk" transform="translate(275.60,231.52) rotate(-90) scale(1.03,1.12)" text-anchor="middle">120</text>
<text class="tk" transform="translate(275.60,215.16) rotate(-90) scale(1.03,1.12)" text-anchor="middle">160</text>
<text class="tk" transform="translate(275.60,198.80) rotate(-90) scale(1.03,1.12)" text-anchor="middle">200</text>
<text class="tk" transform="translate(266.70,241.25) rotate(-90) scale(1.0,0.9)" text-anchor="middle">Counts</text>
<line x1="282.30" y1="281.2" x2="282.30" y2="284.8" stroke="#000" stroke-width="1.2"/>
<line x1="289.39" y1="281.2" x2="289.39" y2="283.7" stroke="#000" stroke-width="1.3"/>
<line x1="293.54" y1="281.2" x2="293.54" y2="283.7" stroke="#000" stroke-width="1.3"/>
<line x1="296.48" y1="281.2" x2="296.48" y2="283.7" stroke="#000" stroke-width="1.3"/>
<line x1="298.76" y1="281.2" x2="298.76" y2="283.7" stroke="#000" stroke-width="1.3"/>
<line x1="300.63" y1="281.2" x2="300.63" y2="283.7" stroke="#000" stroke-width="1.3"/>
<line x1="302.20" y1="281.2" x2="302.20" y2="283.7" stroke="#000" stroke-width="1.3"/>
<line x1="303.57" y1="281.2" x2="303.57" y2="283.7" stroke="#000" stroke-width="1.3"/>
<line x1="304.77" y1="281.2" x2="304.77" y2="283.7" stroke="#000" stroke-width="1.3"/>
<text class="tx" transform="translate(284.70,294.60) scale(0.76,1)" text-anchor="end">10</text>
<text class="sp" transform="translate(285.30,290.30) scale(0.84,1)">0</text>
<line x1="305.85" y1="281.2" x2="305.85" y2="284.8" stroke="#000" stroke-width="1.2"/>
<line x1="312.94" y1="281.2" x2="312.94" y2="283.7" stroke="#000" stroke-width="1.3"/>
<line x1="317.09" y1="281.2" x2="317.09" y2="283.7" stroke="#000" stroke-width="1.3"/>
<line x1="320.03" y1="281.2" x2="320.03" y2="283.7" stroke="#000" stroke-width="1.3"/>
<line x1="322.31" y1="281.2" x2="322.31" y2="283.7" stroke="#000" stroke-width="1.3"/>
<line x1="324.18" y1="281.2" x2="324.18" y2="283.7" stroke="#000" stroke-width="1.3"/>
<line x1="325.75" y1="281.2" x2="325.75" y2="283.7" stroke="#000" stroke-width="1.3"/>
<line x1="327.12" y1="281.2" x2="327.12" y2="283.7" stroke="#000" stroke-width="1.3"/>
<line x1="328.32" y1="281.2" x2="328.32" y2="283.7" stroke="#000" stroke-width="1.3"/>
<text class="tx" transform="translate(307.62,294.60) scale(0.76,1)" text-anchor="end">10</text>
<text class="sp" transform="translate(308.23,290.30) scale(0.84,1)">1</text>
<line x1="329.40" y1="281.2" x2="329.40" y2="284.8" stroke="#000" stroke-width="1.2"/>
<line x1="336.49" y1="281.2" x2="336.49" y2="283.7" stroke="#000" stroke-width="1.3"/>
<line x1="340.64" y1="281.2" x2="340.64" y2="283.7" stroke="#000" stroke-width="1.3"/>
<line x1="343.58" y1="281.2" x2="343.58" y2="283.7" stroke="#000" stroke-width="1.3"/>
<line x1="345.86" y1="281.2" x2="345.86" y2="283.7" stroke="#000" stroke-width="1.3"/>
<line x1="347.73" y1="281.2" x2="347.73" y2="283.7" stroke="#000" stroke-width="1.3"/>
<line x1="349.30" y1="281.2" x2="349.30" y2="283.7" stroke="#000" stroke-width="1.3"/>
<line x1="350.67" y1="281.2" x2="350.67" y2="283.7" stroke="#000" stroke-width="1.3"/>
<line x1="351.87" y1="281.2" x2="351.87" y2="283.7" stroke="#000" stroke-width="1.3"/>
<text class="tx" transform="translate(330.55,294.60) scale(0.76,1)" text-anchor="end">10</text>
<text class="sp" transform="translate(331.15,290.30) scale(0.84,1)">2</text>
<line x1="352.95" y1="281.2" x2="352.95" y2="284.8" stroke="#000" stroke-width="1.2"/>
<line x1="360.04" y1="281.2" x2="360.04" y2="283.7" stroke="#000" stroke-width="1.3"/>
<line x1="364.19" y1="281.2" x2="364.19" y2="283.7" stroke="#000" stroke-width="1.3"/>
<line x1="367.13" y1="281.2" x2="367.13" y2="283.7" stroke="#000" stroke-width="1.3"/>
<line x1="369.41" y1="281.2" x2="369.41" y2="283.7" stroke="#000" stroke-width="1.3"/>
<line x1="371.28" y1="281.2" x2="371.28" y2="283.7" stroke="#000" stroke-width="1.3"/>
<line x1="372.85" y1="281.2" x2="372.85" y2="283.7" stroke="#000" stroke-width="1.3"/>
<line x1="374.22" y1="281.2" x2="374.22" y2="283.7" stroke="#000" stroke-width="1.3"/>
<line x1="375.42" y1="281.2" x2="375.42" y2="283.7" stroke="#000" stroke-width="1.3"/>
<text class="tx" transform="translate(353.47,294.60) scale(0.76,1)" text-anchor="end">10</text>
<text class="sp" transform="translate(354.07,290.30) scale(0.84,1)">3</text>
<line x1="376.50" y1="281.2" x2="376.50" y2="284.8" stroke="#000" stroke-width="1.2"/>
<text class="tx" transform="translate(376.40,294.60) scale(0.76,1)" text-anchor="end">10</text>
<text class="sp" transform="translate(377.00,290.30) scale(0.84,1)">4</text>
<text class="xl" font-size="8.6" stroke-width="0.2" transform="translate(328.40,302.60) scale(0.825,1)" text-anchor="middle">FL1 FITC</text>
<path d="M426.92,278.92 L428.46,275.85 L430.00,272.00 L431.54,268.15 L433.54,264.62 L435.38,262.77 L437.69,262.46 L440.00,263.54 L442.31,265.08 L443.85,268.15 L445.38,272.00 L447.38,275.08 L449.54,276.92 L451.54,278.15 L453.85,279.54" fill="none" stroke="#2e2e2e" stroke-width="1.0" stroke-dasharray="1.0 1.9" stroke-linejoin="round"/>
<path d="M427.69,279.08 L429.54,274.31 L431.38,269.69 L433.54,266.15 L436.00,264.00 L438.77,264.00 L441.23,265.85 L443.08,268.92 L444.92,272.77 L447.08,276.31 L450.00,278.62" fill="none" stroke="#909090" stroke-width="1.0" stroke-dasharray="1.0 1.7" stroke-linejoin="round"/>
<path d="M447.69,280.15 L453.08,279.08 L456.15,277.38 L458.46,273.54 L460.77,268.92 L462.77,266.15 L464.62,265.08 L466.46,267.08 L468.46,270.46 L470.77,274.31 L473.08,277.38 L475.38,279.38 L478.46,280.31" fill="none" stroke="#9a9a9a" stroke-width="1.45" stroke-linejoin="round"/>
<path d="M453.08,279.85 L455.69,278.15 L457.69,274.31 L459.69,268.15 L461.54,262.00 L463.08,257.85 L464.31,256.31 L465.85,258.92 L467.38,263.54 L469.23,268.92 L471.54,274.31 L473.85,277.85 L476.62,279.85" fill="none" stroke="#141414" stroke-width="1.3" stroke-linejoin="round"/>
<rect x="421.3" y="198.3" width="92.70" height="83.80" fill="none" stroke="#0a0a0a" stroke-width="1.2"/>
<line x1="421.3" y1="198.3" x2="421.3" y2="282.1" stroke="#000" stroke-width="1.4"/>
<line x1="420.8" y1="282.1" x2="514.0" y2="282.1" stroke="#000" stroke-width="1.4"/>
<line x1="417.10" y1="282.10" x2="421.3" y2="282.10" stroke="#000" stroke-width="1.15"/>
<line x1="418.10" y1="277.91" x2="421.3" y2="277.91" stroke="#000" stroke-width="1.15"/>
<line x1="418.10" y1="273.72" x2="421.3" y2="273.72" stroke="#000" stroke-width="1.15"/>
<line x1="418.10" y1="269.53" x2="421.3" y2="269.53" stroke="#000" stroke-width="1.15"/>
<line x1="417.10" y1="265.34" x2="421.3" y2="265.34" stroke="#000" stroke-width="1.15"/>
<line x1="418.10" y1="261.15" x2="421.3" y2="261.15" stroke="#000" stroke-width="1.15"/>
<line x1="418.10" y1="256.96" x2="421.3" y2="256.96" stroke="#000" stroke-width="1.15"/>
<line x1="418.10" y1="252.77" x2="421.3" y2="252.77" stroke="#000" stroke-width="1.15"/>
<line x1="417.10" y1="248.58" x2="421.3" y2="248.58" stroke="#000" stroke-width="1.15"/>
<line x1="418.10" y1="244.39" x2="421.3" y2="244.39" stroke="#000" stroke-width="1.15"/>
<line x1="418.10" y1="240.20" x2="421.3" y2="240.20" stroke="#000" stroke-width="1.15"/>
<line x1="418.10" y1="236.01" x2="421.3" y2="236.01" stroke="#000" stroke-width="1.15"/>
<line x1="417.10" y1="231.82" x2="421.3" y2="231.82" stroke="#000" stroke-width="1.15"/>
<line x1="418.10" y1="227.63" x2="421.3" y2="227.63" stroke="#000" stroke-width="1.15"/>
<line x1="418.10" y1="223.44" x2="421.3" y2="223.44" stroke="#000" stroke-width="1.15"/>
<line x1="418.10" y1="219.25" x2="421.3" y2="219.25" stroke="#000" stroke-width="1.15"/>
<line x1="417.10" y1="215.06" x2="421.3" y2="215.06" stroke="#000" stroke-width="1.15"/>
<line x1="418.10" y1="210.87" x2="421.3" y2="210.87" stroke="#000" stroke-width="1.15"/>
<line x1="418.10" y1="206.68" x2="421.3" y2="206.68" stroke="#000" stroke-width="1.15"/>
<line x1="418.10" y1="202.49" x2="421.3" y2="202.49" stroke="#000" stroke-width="1.15"/>
<line x1="417.10" y1="198.30" x2="421.3" y2="198.30" stroke="#000" stroke-width="1.15"/>
<text class="tk" transform="translate(414.60,281.50) rotate(-90) scale(1.03,1.12)" text-anchor="middle">0</text>
<text class="tk" transform="translate(414.60,264.92) rotate(-90) scale(1.03,1.12)" text-anchor="middle">40</text>
<text class="tk" transform="translate(414.60,248.34) rotate(-90) scale(1.03,1.12)" text-anchor="middle">80</text>
<text class="tk" transform="translate(414.60,231.76) rotate(-90) scale(1.03,1.12)" text-anchor="middle">120</text>
<text class="tk" transform="translate(414.60,215.18) rotate(-90) scale(1.03,1.12)" text-anchor="middle">160</text>
<text class="tk" transform="translate(414.60,198.60) rotate(-90) scale(1.03,1.12)" text-anchor="middle">200</text>
<text class="tk" transform="translate(405.70,241.60) rotate(-90) scale(1.0,0.9)" text-anchor="middle">Counts</text>
<line x1="421.30" y1="282.1" x2="421.30" y2="285.70000000000005" stroke="#000" stroke-width="1.2"/>
<line x1="428.28" y1="282.1" x2="428.28" y2="284.6" stroke="#000" stroke-width="1.3"/>
<line x1="432.36" y1="282.1" x2="432.36" y2="284.6" stroke="#000" stroke-width="1.3"/>
<line x1="435.25" y1="282.1" x2="435.25" y2="284.6" stroke="#000" stroke-width="1.3"/>
<line x1="437.50" y1="282.1" x2="437.50" y2="284.6" stroke="#000" stroke-width="1.3"/>
<line x1="439.33" y1="282.1" x2="439.33" y2="284.6" stroke="#000" stroke-width="1.3"/>
<line x1="440.89" y1="282.1" x2="440.89" y2="284.6" stroke="#000" stroke-width="1.3"/>
<line x1="442.23" y1="282.1" x2="442.23" y2="284.6" stroke="#000" stroke-width="1.3"/>
<line x1="443.41" y1="282.1" x2="443.41" y2="284.6" stroke="#000" stroke-width="1.3"/>
<text class="tx" transform="translate(423.70,295.50) scale(0.76,1)" text-anchor="end">10</text>
<text class="sp" transform="translate(424.30,291.20) scale(0.84,1)">0</text>
<line x1="444.48" y1="282.1" x2="444.48" y2="285.70000000000005" stroke="#000" stroke-width="1.2"/>
<line x1="451.45" y1="282.1" x2="451.45" y2="284.6" stroke="#000" stroke-width="1.3"/>
<line x1="455.53" y1="282.1" x2="455.53" y2="284.6" stroke="#000" stroke-width="1.3"/>
<line x1="458.43" y1="282.1" x2="458.43" y2="284.6" stroke="#000" stroke-width="1.3"/>
<line x1="460.67" y1="282.1" x2="460.67" y2="284.6" stroke="#000" stroke-width="1.3"/>
<line x1="462.51" y1="282.1" x2="462.51" y2="284.6" stroke="#000" stroke-width="1.3"/>
<line x1="464.06" y1="282.1" x2="464.06" y2="284.6" stroke="#000" stroke-width="1.3"/>
<line x1="465.40" y1="282.1" x2="465.40" y2="284.6" stroke="#000" stroke-width="1.3"/>
<line x1="466.59" y1="282.1" x2="466.59" y2="284.6" stroke="#000" stroke-width="1.3"/>
<text class="tx" transform="translate(446.25,295.50) scale(0.76,1)" text-anchor="end">10</text>
<text class="sp" transform="translate(446.85,291.20) scale(0.84,1)">1</text>
<line x1="467.65" y1="282.1" x2="467.65" y2="285.70000000000005" stroke="#000" stroke-width="1.2"/>
<line x1="474.63" y1="282.1" x2="474.63" y2="284.6" stroke="#000" stroke-width="1.3"/>
<line x1="478.71" y1="282.1" x2="478.71" y2="284.6" stroke="#000" stroke-width="1.3"/>
<line x1="481.60" y1="282.1" x2="481.60" y2="284.6" stroke="#000" stroke-width="1.3"/>
<line x1="483.85" y1="282.1" x2="483.85" y2="284.6" stroke="#000" stroke-width="1.3"/>
<line x1="485.68" y1="282.1" x2="485.68" y2="284.6" stroke="#000" stroke-width="1.3"/>
<line x1="487.24" y1="282.1" x2="487.24" y2="284.6" stroke="#000" stroke-width="1.3"/>
<line x1="488.58" y1="282.1" x2="488.58" y2="284.6" stroke="#000" stroke-width="1.3"/>
<line x1="489.76" y1="282.1" x2="489.76" y2="284.6" stroke="#000" stroke-width="1.3"/>
<text class="tx" transform="translate(468.80,295.50) scale(0.76,1)" text-anchor="end">10</text>
<text class="sp" transform="translate(469.40,291.20) scale(0.84,1)">2</text>
<line x1="490.82" y1="282.1" x2="490.82" y2="285.70000000000005" stroke="#000" stroke-width="1.2"/>
<line x1="497.80" y1="282.1" x2="497.80" y2="284.6" stroke="#000" stroke-width="1.3"/>
<line x1="501.88" y1="282.1" x2="501.88" y2="284.6" stroke="#000" stroke-width="1.3"/>
<line x1="504.78" y1="282.1" x2="504.78" y2="284.6" stroke="#000" stroke-width="1.3"/>
<line x1="507.02" y1="282.1" x2="507.02" y2="284.6" stroke="#000" stroke-width="1.3"/>
<line x1="508.86" y1="282.1" x2="508.86" y2="284.6" stroke="#000" stroke-width="1.3"/>
<line x1="510.41" y1="282.1" x2="510.41" y2="284.6" stroke="#000" stroke-width="1.3"/>
<line x1="511.75" y1="282.1" x2="511.75" y2="284.6" stroke="#000" stroke-width="1.3"/>
<line x1="512.94" y1="282.1" x2="512.94" y2="284.6" stroke="#000" stroke-width="1.3"/>
<text class="tx" transform="translate(491.35,295.50) scale(0.76,1)" text-anchor="end">10</text>
<text class="sp" transform="translate(491.95,291.20) scale(0.84,1)">3</text>
<line x1="514.00" y1="282.1" x2="514.00" y2="285.70000000000005" stroke="#000" stroke-width="1.2"/>
<text class="tx" transform="translate(513.90,295.50) scale(0.76,1)" text-anchor="end">10</text>
<text class="sp" transform="translate(514.50,291.20) scale(0.84,1)">4</text>
<text class="xl" font-size="8.3" stroke-width="0.35" transform="translate(466.65,303.80) scale(0.87,1)" text-anchor="middle">fitc</text>
<path d="M149.33,407.00 L150.22,404.22 L151.56,399.78 L153.22,394.22 L154.89,388.67 L156.56,383.67 L158.22,380.33 L159.89,379.78 L161.00,377.56 L162.67,376.44 L163.78,379.78 L164.89,384.22 L166.00,389.78 L167.33,395.33 L168.78,400.89 L169.89,404.78 L171.56,407.33" fill="none" stroke="#2e2e2e" stroke-width="1.0" stroke-dasharray="1.0 1.9" stroke-linejoin="round"/>
<path d="M150.44,406.44 L152.11,400.89 L153.56,395.33 L155.11,390.33 L156.89,384.78 L158.44,382.00 L160.22,380.89 L161.78,378.67 L163.22,380.33 L164.44,385.33 L165.56,390.89 L166.89,397.00 L168.22,402.56 L169.78,406.44" fill="none" stroke="#909090" stroke-width="1.0" stroke-dasharray="1.0 1.7" stroke-linejoin="round"/>
<path d="M156.56,407.33 L159.89,405.11 L162.11,400.89 L163.56,395.33 L164.89,388.67 L166.00,382.00 L167.11,376.44 L168.78,371.44 L170.00,372.56 L171.11,377.56 L172.22,384.22 L173.33,390.89 L174.44,397.56 L175.78,402.56 L177.67,405.89 L179.89,407.56" fill="none" stroke="#9a9a9a" stroke-width="1.45" stroke-linejoin="round"/>
<path d="M158.78,407.56 L161.00,405.89 L162.89,402.89 L164.33,398.67 L165.78,393.11 L167.11,386.44 L168.22,379.78 L169.33,374.22 L170.67,369.78 L172.11,372.56 L173.22,377.56 L174.33,383.11 L175.44,388.67 L176.56,394.22 L178.22,399.22 L180.44,403.67 L183.22,406.44 L186.00,407.67" fill="none" stroke="#1c1c1c" stroke-width="1.0" stroke-linejoin="round"/>
<rect x="146.3" y="326.5" width="90.70" height="81.90" fill="none" stroke="#0a0a0a" stroke-width="1.2"/>
<line x1="146.3" y1="326.5" x2="146.3" y2="408.4" stroke="#000" stroke-width="1.4"/>
<line x1="145.8" y1="408.4" x2="237.0" y2="408.4" stroke="#000" stroke-width="1.4"/>
<line x1="142.10" y1="408.40" x2="146.3" y2="408.40" stroke="#000" stroke-width="1.15"/>
<line x1="143.10" y1="404.30" x2="146.3" y2="404.30" stroke="#000" stroke-width="1.15"/>
<line x1="143.10" y1="400.21" x2="146.3" y2="400.21" stroke="#000" stroke-width="1.15"/>
<line x1="143.10" y1="396.12" x2="146.3" y2="396.12" stroke="#000" stroke-width="1.15"/>
<line x1="142.10" y1="392.02" x2="146.3" y2="392.02" stroke="#000" stroke-width="1.15"/>
<line x1="143.10" y1="387.92" x2="146.3" y2="387.92" stroke="#000" stroke-width="1.15"/>
<line x1="143.10" y1="383.83" x2="146.3" y2="383.83" stroke="#000" stroke-width="1.15"/>
<line x1="143.10" y1="379.74" x2="146.3" y2="379.74" stroke="#000" stroke-width="1.15"/>
<line x1="142.10" y1="375.64" x2="146.3" y2="375.64" stroke="#000" stroke-width="1.15"/>
<line x1="143.10" y1="371.54" x2="146.3" y2="371.54" stroke="#000" stroke-width="1.15"/>
<line x1="143.10" y1="367.45" x2="146.3" y2="367.45" stroke="#000" stroke-width="1.15"/>
<line x1="143.10" y1="363.36" x2="146.3" y2="363.36" stroke="#000" stroke-width="1.15"/>
<line x1="142.10" y1="359.26" x2="146.3" y2="359.26" stroke="#000" stroke-width="1.15"/>
<line x1="143.10" y1="355.16" x2="146.3" y2="355.16" stroke="#000" stroke-width="1.15"/>
<line x1="143.10" y1="351.07" x2="146.3" y2="351.07" stroke="#000" stroke-width="1.15"/>
<line x1="143.10" y1="346.98" x2="146.3" y2="346.98" stroke="#000" stroke-width="1.15"/>
<line x1="142.10" y1="342.88" x2="146.3" y2="342.88" stroke="#000" stroke-width="1.15"/>
<line x1="143.10" y1="338.78" x2="146.3" y2="338.78" stroke="#000" stroke-width="1.15"/>
<line x1="143.10" y1="334.69" x2="146.3" y2="334.69" stroke="#000" stroke-width="1.15"/>
<line x1="143.10" y1="330.60" x2="146.3" y2="330.60" stroke="#000" stroke-width="1.15"/>
<line x1="142.10" y1="326.50" x2="146.3" y2="326.50" stroke="#000" stroke-width="1.15"/>
<text class="tk" transform="translate(139.60,407.80) rotate(-90) scale(1.03,1.12)" text-anchor="middle">0</text>
<text class="tk" transform="translate(139.60,391.60) rotate(-90) scale(1.03,1.12)" text-anchor="middle">40</text>
<text class="tk" transform="translate(139.60,375.40) rotate(-90) scale(1.03,1.12)" text-anchor="middle">80</text>
<text class="tk" transform="translate(139.60,359.20) rotate(-90) scale(1.03,1.12)" text-anchor="middle">120</text>
<text class="tk" transform="translate(139.60,343.00) rotate(-90) scale(1.03,1.12)" text-anchor="middle">160</text>
<text class="tk" transform="translate(139.60,326.80) rotate(-90) scale(1.03,1.12)" text-anchor="middle">200</text>
<text class="tk" transform="translate(130.70,368.85) rotate(-90) scale(1.0,0.9)" text-anchor="middle">Counts</text>
<line x1="146.30" y1="408.4" x2="146.30" y2="412.0" stroke="#000" stroke-width="1.2"/>
<line x1="153.13" y1="408.4" x2="153.13" y2="410.9" stroke="#000" stroke-width="1.3"/>
<line x1="157.12" y1="408.4" x2="157.12" y2="410.9" stroke="#000" stroke-width="1.3"/>
<line x1="159.95" y1="408.4" x2="159.95" y2="410.9" stroke="#000" stroke-width="1.3"/>
<line x1="162.15" y1="408.4" x2="162.15" y2="410.9" stroke="#000" stroke-width="1.3"/>
<line x1="163.94" y1="408.4" x2="163.94" y2="410.9" stroke="#000" stroke-width="1.3"/>
<line x1="165.46" y1="408.4" x2="165.46" y2="410.9" stroke="#000" stroke-width="1.3"/>
<line x1="166.78" y1="408.4" x2="166.78" y2="410.9" stroke="#000" stroke-width="1.3"/>
<line x1="167.94" y1="408.4" x2="167.94" y2="410.9" stroke="#000" stroke-width="1.3"/>
<text class="tx" transform="translate(148.70,421.80) scale(0.76,1)" text-anchor="end">10</text>
<text class="sp" transform="translate(149.30,417.50) scale(0.84,1)">0</text>
<line x1="168.98" y1="408.4" x2="168.98" y2="412.0" stroke="#000" stroke-width="1.2"/>
<line x1="175.80" y1="408.4" x2="175.80" y2="410.9" stroke="#000" stroke-width="1.3"/>
<line x1="179.79" y1="408.4" x2="179.79" y2="410.9" stroke="#000" stroke-width="1.3"/>
<line x1="182.63" y1="408.4" x2="182.63" y2="410.9" stroke="#000" stroke-width="1.3"/>
<line x1="184.82" y1="408.4" x2="184.82" y2="410.9" stroke="#000" stroke-width="1.3"/>
<line x1="186.62" y1="408.4" x2="186.62" y2="410.9" stroke="#000" stroke-width="1.3"/>
<line x1="188.14" y1="408.4" x2="188.14" y2="410.9" stroke="#000" stroke-width="1.3"/>
<line x1="189.45" y1="408.4" x2="189.45" y2="410.9" stroke="#000" stroke-width="1.3"/>
<line x1="190.61" y1="408.4" x2="190.61" y2="410.9" stroke="#000" stroke-width="1.3"/>
<text class="tx" transform="translate(170.75,421.80) scale(0.76,1)" text-anchor="end">10</text>
<text class="sp" transform="translate(171.35,417.50) scale(0.84,1)">1</text>
<line x1="191.65" y1="408.4" x2="191.65" y2="412.0" stroke="#000" stroke-width="1.2"/>
<line x1="198.48" y1="408.4" x2="198.48" y2="410.9" stroke="#000" stroke-width="1.3"/>
<line x1="202.47" y1="408.4" x2="202.47" y2="410.9" stroke="#000" stroke-width="1.3"/>
<line x1="205.30" y1="408.4" x2="205.30" y2="410.9" stroke="#000" stroke-width="1.3"/>
<line x1="207.50" y1="408.4" x2="207.50" y2="410.9" stroke="#000" stroke-width="1.3"/>
<line x1="209.29" y1="408.4" x2="209.29" y2="410.9" stroke="#000" stroke-width="1.3"/>
<line x1="210.81" y1="408.4" x2="210.81" y2="410.9" stroke="#000" stroke-width="1.3"/>
<line x1="212.13" y1="408.4" x2="212.13" y2="410.9" stroke="#000" stroke-width="1.3"/>
<line x1="213.29" y1="408.4" x2="213.29" y2="410.9" stroke="#000" stroke-width="1.3"/>
<text class="tx" transform="translate(192.80,421.80) scale(0.76,1)" text-anchor="end">10</text>
<text class="sp" transform="translate(193.40,417.50) scale(0.84,1)">2</text>
<line x1="214.32" y1="408.4" x2="214.32" y2="412.0" stroke="#000" stroke-width="1.2"/>
<line x1="221.15" y1="408.4" x2="221.15" y2="410.9" stroke="#000" stroke-width="1.3"/>
<line x1="225.14" y1="408.4" x2="225.14" y2="410.9" stroke="#000" stroke-width="1.3"/>
<line x1="227.98" y1="408.4" x2="227.98" y2="410.9" stroke="#000" stroke-width="1.3"/>
<line x1="230.17" y1="408.4" x2="230.17" y2="410.9" stroke="#000" stroke-width="1.3"/>
<line x1="231.97" y1="408.4" x2="231.97" y2="410.9" stroke="#000" stroke-width="1.3"/>
<line x1="233.49" y1="408.4" x2="233.49" y2="410.9" stroke="#000" stroke-width="1.3"/>
<line x1="234.80" y1="408.4" x2="234.80" y2="410.9" stroke="#000" stroke-width="1.3"/>
<line x1="235.96" y1="408.4" x2="235.96" y2="410.9" stroke="#000" stroke-width="1.3"/>
<text class="tx" transform="translate(214.85,421.80) scale(0.76,1)" text-anchor="end">10</text>
<text class="sp" transform="translate(215.45,417.50) scale(0.84,1)">3</text>
<line x1="237.00" y1="408.4" x2="237.00" y2="412.0" stroke="#000" stroke-width="1.2"/>
<text class="tx" transform="translate(236.90,421.80) scale(0.76,1)" text-anchor="end">10</text>
<text class="sp" transform="translate(237.50,417.50) scale(0.84,1)">4</text>
<text class="xl" font-size="8.3" stroke-width="0.35" transform="translate(190.65,430.10) scale(0.87,1)" text-anchor="middle">fitc</text>
<path d="M285.38,407.38 L287.38,401.54 L289.23,396.15 L291.08,392.62 L292.62,391.54 L294.15,393.54 L295.69,397.69 L297.54,402.31 L299.69,406.15 L302.31,408.31" fill="none" stroke="#909090" stroke-width="1.0" stroke-dasharray="1.0 1.7" stroke-linejoin="round"/>
<path d="M284.62,407.69 L286.46,401.85 L288.31,396.15 L290.15,391.54 L292.00,389.23 L293.54,390.00 L295.08,393.85 L296.62,398.15 L298.46,402.77 L300.62,406.15 L303.08,408.31" fill="none" stroke="#9a9a9a" stroke-width="1.45" stroke-linejoin="round"/>
<path d="M282.77,408.62 L283.69,407.08 L284.92,403.85 L286.46,398.46 L288.00,393.08 L289.54,389.23 L291.08,386.92 L292.31,385.85 L293.54,387.38 L294.77,390.77 L296.15,395.08 L297.69,399.23 L299.23,402.77 L301.23,405.85 L303.38,408.00 L306.46,408.92 L318.46,409.00 L341.54,409.00 L375.38,409.00" fill="none" stroke="#0a0a0a" stroke-width="2.1" stroke-linejoin="round"/>
<rect x="282.2" y="326.5" width="94.00" height="82.70" fill="none" stroke="#0a0a0a" stroke-width="1.2"/>
<line x1="282.2" y1="326.5" x2="282.2" y2="409.2" stroke="#000" stroke-width="1.4"/>
<line x1="281.7" y1="409.2" x2="376.2" y2="409.2" stroke="#000" stroke-width="1.4"/>
<line x1="278.00" y1="409.20" x2="282.2" y2="409.20" stroke="#000" stroke-width="1.15"/>
<line x1="279.00" y1="405.06" x2="282.2" y2="405.06" stroke="#000" stroke-width="1.15"/>
<line x1="279.00" y1="400.93" x2="282.2" y2="400.93" stroke="#000" stroke-width="1.15"/>
<line x1="279.00" y1="396.80" x2="282.2" y2="396.80" stroke="#000" stroke-width="1.15"/>
<line x1="278.00" y1="392.66" x2="282.2" y2="392.66" stroke="#000" stroke-width="1.15"/>
<line x1="279.00" y1="388.52" x2="282.2" y2="388.52" stroke="#000" stroke-width="1.15"/>
<line x1="279.00" y1="384.39" x2="282.2" y2="384.39" stroke="#000" stroke-width="1.15"/>
<line x1="279.00" y1="380.25" x2="282.2" y2="380.25" stroke="#000" stroke-width="1.15"/>
<line x1="278.00" y1="376.12" x2="282.2" y2="376.12" stroke="#000" stroke-width="1.15"/>
<line x1="279.00" y1="371.99" x2="282.2" y2="371.99" stroke="#000" stroke-width="1.15"/>
<line x1="279.00" y1="367.85" x2="282.2" y2="367.85" stroke="#000" stroke-width="1.15"/>
<line x1="279.00" y1="363.71" x2="282.2" y2="363.71" stroke="#000" stroke-width="1.15"/>
<line x1="278.00" y1="359.58" x2="282.2" y2="359.58" stroke="#000" stroke-width="1.15"/>
<line x1="279.00" y1="355.44" x2="282.2" y2="355.44" stroke="#000" stroke-width="1.15"/>
<line x1="279.00" y1="351.31" x2="282.2" y2="351.31" stroke="#000" stroke-width="1.15"/>
<line x1="279.00" y1="347.18" x2="282.2" y2="347.18" stroke="#000" stroke-width="1.15"/>
<line x1="278.00" y1="343.04" x2="282.2" y2="343.04" stroke="#000" stroke-width="1.15"/>
<line x1="279.00" y1="338.90" x2="282.2" y2="338.90" stroke="#000" stroke-width="1.15"/>
<line x1="279.00" y1="334.77" x2="282.2" y2="334.77" stroke="#000" stroke-width="1.15"/>
<line x1="279.00" y1="330.63" x2="282.2" y2="330.63" stroke="#000" stroke-width="1.15"/>
<line x1="278.00" y1="326.50" x2="282.2" y2="326.50" stroke="#000" stroke-width="1.15"/>
<text class="tk" transform="translate(275.50,408.60) rotate(-90) scale(1.03,1.12)" text-anchor="middle">0</text>
<text class="tk" transform="translate(275.50,392.24) rotate(-90) scale(1.03,1.12)" text-anchor="middle">40</text>
<text class="tk" transform="translate(275.50,375.88) rotate(-90) scale(1.03,1.12)" text-anchor="middle">80</text>
<text class="tk" transform="translate(275.50,359.52) rotate(-90) scale(1.03,1.12)" text-anchor="middle">120</text>
<text class="tk" transform="translate(275.50,343.16) rotate(-90) scale(1.03,1.12)" text-anchor="middle">160</text>
<text class="tk" transform="translate(275.50,326.80) rotate(-90) scale(1.03,1.12)" text-anchor="middle">200</text>
<text class="tk" transform="translate(266.60,369.25) rotate(-90) scale(1.0,0.9)" text-anchor="middle">Counts</text>
<line x1="282.20" y1="409.2" x2="282.20" y2="412.8" stroke="#000" stroke-width="1.2"/>
<line x1="289.27" y1="409.2" x2="289.27" y2="411.7" stroke="#000" stroke-width="1.3"/>
<line x1="293.41" y1="409.2" x2="293.41" y2="411.7" stroke="#000" stroke-width="1.3"/>
<line x1="296.35" y1="409.2" x2="296.35" y2="411.7" stroke="#000" stroke-width="1.3"/>
<line x1="298.63" y1="409.2" x2="298.63" y2="411.7" stroke="#000" stroke-width="1.3"/>
<line x1="300.49" y1="409.2" x2="300.49" y2="411.7" stroke="#000" stroke-width="1.3"/>
<line x1="302.06" y1="409.2" x2="302.06" y2="411.7" stroke="#000" stroke-width="1.3"/>
<line x1="303.42" y1="409.2" x2="303.42" y2="411.7" stroke="#000" stroke-width="1.3"/>
<line x1="304.62" y1="409.2" x2="304.62" y2="411.7" stroke="#000" stroke-width="1.3"/>
<text class="tx" transform="translate(284.60,422.60) scale(0.76,1)" text-anchor="end">10</text>
<text class="sp" transform="translate(285.20,418.30) scale(0.84,1)">0</text>
<line x1="305.70" y1="409.2" x2="305.70" y2="412.8" stroke="#000" stroke-width="1.2"/>
<line x1="312.77" y1="409.2" x2="312.77" y2="411.7" stroke="#000" stroke-width="1.3"/>
<line x1="316.91" y1="409.2" x2="316.91" y2="411.7" stroke="#000" stroke-width="1.3"/>
<line x1="319.85" y1="409.2" x2="319.85" y2="411.7" stroke="#000" stroke-width="1.3"/>
<line x1="322.13" y1="409.2" x2="322.13" y2="411.7" stroke="#000" stroke-width="1.3"/>
<line x1="323.99" y1="409.2" x2="323.99" y2="411.7" stroke="#000" stroke-width="1.3"/>
<line x1="325.56" y1="409.2" x2="325.56" y2="411.7" stroke="#000" stroke-width="1.3"/>
<line x1="326.92" y1="409.2" x2="326.92" y2="411.7" stroke="#000" stroke-width="1.3"/>
<line x1="328.12" y1="409.2" x2="328.12" y2="411.7" stroke="#000" stroke-width="1.3"/>
<text class="tx" transform="translate(307.47,422.60) scale(0.76,1)" text-anchor="end">10</text>
<text class="sp" transform="translate(308.07,418.30) scale(0.84,1)">1</text>
<line x1="329.20" y1="409.2" x2="329.20" y2="412.8" stroke="#000" stroke-width="1.2"/>
<line x1="336.27" y1="409.2" x2="336.27" y2="411.7" stroke="#000" stroke-width="1.3"/>
<line x1="340.41" y1="409.2" x2="340.41" y2="411.7" stroke="#000" stroke-width="1.3"/>
<line x1="343.35" y1="409.2" x2="343.35" y2="411.7" stroke="#000" stroke-width="1.3"/>
<line x1="345.63" y1="409.2" x2="345.63" y2="411.7" stroke="#000" stroke-width="1.3"/>
<line x1="347.49" y1="409.2" x2="347.49" y2="411.7" stroke="#000" stroke-width="1.3"/>
<line x1="349.06" y1="409.2" x2="349.06" y2="411.7" stroke="#000" stroke-width="1.3"/>
<line x1="350.42" y1="409.2" x2="350.42" y2="411.7" stroke="#000" stroke-width="1.3"/>
<line x1="351.62" y1="409.2" x2="351.62" y2="411.7" stroke="#000" stroke-width="1.3"/>
<text class="tx" transform="translate(330.35,422.60) scale(0.76,1)" text-anchor="end">10</text>
<text class="sp" transform="translate(330.95,418.30) scale(0.84,1)">2</text>
<line x1="352.70" y1="409.2" x2="352.70" y2="412.8" stroke="#000" stroke-width="1.2"/>
<line x1="359.77" y1="409.2" x2="359.77" y2="411.7" stroke="#000" stroke-width="1.3"/>
<line x1="363.91" y1="409.2" x2="363.91" y2="411.7" stroke="#000" stroke-width="1.3"/>
<line x1="366.85" y1="409.2" x2="366.85" y2="411.7" stroke="#000" stroke-width="1.3"/>
<line x1="369.13" y1="409.2" x2="369.13" y2="411.7" stroke="#000" stroke-width="1.3"/>
<line x1="370.99" y1="409.2" x2="370.99" y2="411.7" stroke="#000" stroke-width="1.3"/>
<line x1="372.56" y1="409.2" x2="372.56" y2="411.7" stroke="#000" stroke-width="1.3"/>
<line x1="373.92" y1="409.2" x2="373.92" y2="411.7" stroke="#000" stroke-width="1.3"/>
<line x1="375.12" y1="409.2" x2="375.12" y2="411.7" stroke="#000" stroke-width="1.3"/>
<text class="tx" transform="translate(353.22,422.60) scale(0.76,1)" text-anchor="end">10</text>
<text class="sp" transform="translate(353.82,418.30) scale(0.84,1)">3</text>
<line x1="376.20" y1="409.2" x2="376.20" y2="412.8" stroke="#000" stroke-width="1.2"/>
<text class="tx" transform="translate(376.10,422.60) scale(0.76,1)" text-anchor="end">10</text>
<text class="sp" transform="translate(376.70,418.30) scale(0.84,1)">4</text>
<text class="xl" font-size="8.3" stroke-width="0.35" transform="translate(326.10,430.40) scale(0.77,1)" text-anchor="middle">fitc c1q</text>
<path d="M423.08,406.15 L425.38,403.08 L427.69,399.23 L430.00,394.62 L432.31,392.31 L434.62,391.54 L436.62,390.00 L438.77,389.23 L441.23,390.77 L443.08,392.31 L444.62,396.15 L446.46,400.00 L448.46,403.08 L450.77,405.38 L453.08,406.15 L456.15,405.85 L458.46,407.08" fill="none" stroke="#2e2e2e" stroke-width="1.0" stroke-dasharray="1.0 1.9" stroke-linejoin="round"/>
<path d="M424.31,406.46 L426.92,402.77 L429.23,398.46 L431.69,395.69 L434.15,394.15 L436.92,392.62 L439.69,392.31 L442.15,394.15 L444.00,397.69 L445.85,401.54 L448.00,404.62 L450.46,406.46" fill="none" stroke="#909090" stroke-width="1.0" stroke-dasharray="1.0 1.7" stroke-linejoin="round"/>
<path d="M456.15,407.54 L460.00,406.15 L462.77,403.08 L464.92,398.46 L466.92,393.85 L468.92,391.54 L470.77,392.31 L472.62,396.15 L474.62,400.77 L476.62,404.62 L478.77,406.92 L481.54,407.85" fill="none" stroke="#9a9a9a" stroke-width="1.45" stroke-linejoin="round"/>
<path d="M456.92,407.54 L460.31,405.85 L462.77,402.31 L464.62,396.92 L466.15,390.00 L467.38,383.08 L468.46,378.77 L470.46,378.15 L471.69,381.54 L473.08,387.69 L474.62,394.62 L476.15,400.77 L477.69,404.92 L480.00,407.54" fill="none" stroke="#141414" stroke-width="1.3" stroke-linejoin="round"/>
<rect x="420.2" y="327.2" width="93.60" height="81.60" fill="none" stroke="#0a0a0a" stroke-width="1.2"/>
<line x1="420.2" y1="327.2" x2="420.2" y2="408.8" stroke="#000" stroke-width="1.4"/>
<line x1="419.7" y1="408.8" x2="513.8" y2="408.8" stroke="#000" stroke-width="1.4"/>
<line x1="416.00" y1="408.80" x2="420.2" y2="408.80" stroke="#000" stroke-width="1.15"/>
<line x1="417.00" y1="404.72" x2="420.2" y2="404.72" stroke="#000" stroke-width="1.15"/>
<line x1="417.00" y1="400.64" x2="420.2" y2="400.64" stroke="#000" stroke-width="1.15"/>
<line x1="417.00" y1="396.56" x2="420.2" y2="396.56" stroke="#000" stroke-width="1.15"/>
<line x1="416.00" y1="392.48" x2="420.2" y2="392.48" stroke="#000" stroke-width="1.15"/>
<line x1="417.00" y1="388.40" x2="420.2" y2="388.40" stroke="#000" stroke-width="1.15"/>
<line x1="417.00" y1="384.32" x2="420.2" y2="384.32" stroke="#000" stroke-width="1.15"/>
<line x1="417.00" y1="380.24" x2="420.2" y2="380.24" stroke="#000" stroke-width="1.15"/>
<line x1="416.00" y1="376.16" x2="420.2" y2="376.16" stroke="#000" stroke-width="1.15"/>
<line x1="417.00" y1="372.08" x2="420.2" y2="372.08" stroke="#000" stroke-width="1.15"/>
<line x1="417.00" y1="368.00" x2="420.2" y2="368.00" stroke="#000" stroke-width="1.15"/>
<line x1="417.00" y1="363.92" x2="420.2" y2="363.92" stroke="#000" stroke-width="1.15"/>
<line x1="416.00" y1="359.84" x2="420.2" y2="359.84" stroke="#000" stroke-width="1.15"/>
<line x1="417.00" y1="355.76" x2="420.2" y2="355.76" stroke="#000" stroke-width="1.15"/>
<line x1="417.00" y1="351.68" x2="420.2" y2="351.68" stroke="#000" stroke-width="1.15"/>
<line x1="417.00" y1="347.60" x2="420.2" y2="347.60" stroke="#000" stroke-width="1.15"/>
<line x1="416.00" y1="343.52" x2="420.2" y2="343.52" stroke="#000" stroke-width="1.15"/>
<line x1="417.00" y1="339.44" x2="420.2" y2="339.44" stroke="#000" stroke-width="1.15"/>
<line x1="417.00" y1="335.36" x2="420.2" y2="335.36" stroke="#000" stroke-width="1.15"/>
<line x1="417.00" y1="331.28" x2="420.2" y2="331.28" stroke="#000" stroke-width="1.15"/>
<line x1="416.00" y1="327.20" x2="420.2" y2="327.20" stroke="#000" stroke-width="1.15"/>
<text class="tk" transform="translate(413.50,408.20) rotate(-90) scale(1.03,1.12)" text-anchor="middle">0</text>
<text class="tk" transform="translate(413.50,392.06) rotate(-90) scale(1.03,1.12)" text-anchor="middle">40</text>
<text class="tk" transform="translate(413.50,375.92) rotate(-90) scale(1.03,1.12)" text-anchor="middle">80</text>
<text class="tk" transform="translate(413.50,359.78) rotate(-90) scale(1.03,1.12)" text-anchor="middle">120</text>
<text class="tk" transform="translate(413.50,343.64) rotate(-90) scale(1.03,1.12)" text-anchor="middle">160</text>
<text class="tk" transform="translate(413.50,327.50) rotate(-90) scale(1.03,1.12)" text-anchor="middle">200</text>
<text class="tk" transform="translate(404.60,369.40) rotate(-90) scale(1.0,0.9)" text-anchor="middle">Counts</text>
<line x1="420.20" y1="408.8" x2="420.20" y2="412.40000000000003" stroke="#000" stroke-width="1.2"/>
<line x1="427.24" y1="408.8" x2="427.24" y2="411.3" stroke="#000" stroke-width="1.3"/>
<line x1="431.36" y1="408.8" x2="431.36" y2="411.3" stroke="#000" stroke-width="1.3"/>
<line x1="434.29" y1="408.8" x2="434.29" y2="411.3" stroke="#000" stroke-width="1.3"/>
<line x1="436.56" y1="408.8" x2="436.56" y2="411.3" stroke="#000" stroke-width="1.3"/>
<line x1="438.41" y1="408.8" x2="438.41" y2="411.3" stroke="#000" stroke-width="1.3"/>
<line x1="439.98" y1="408.8" x2="439.98" y2="411.3" stroke="#000" stroke-width="1.3"/>
<line x1="441.33" y1="408.8" x2="441.33" y2="411.3" stroke="#000" stroke-width="1.3"/>
<line x1="442.53" y1="408.8" x2="442.53" y2="411.3" stroke="#000" stroke-width="1.3"/>
<text class="tx" transform="translate(422.60,422.20) scale(0.76,1)" text-anchor="end">10</text>
<text class="sp" transform="translate(423.20,417.90) scale(0.84,1)">0</text>
<line x1="443.60" y1="408.8" x2="443.60" y2="412.40000000000003" stroke="#000" stroke-width="1.2"/>
<line x1="450.64" y1="408.8" x2="450.64" y2="411.3" stroke="#000" stroke-width="1.3"/>
<line x1="454.76" y1="408.8" x2="454.76" y2="411.3" stroke="#000" stroke-width="1.3"/>
<line x1="457.69" y1="408.8" x2="457.69" y2="411.3" stroke="#000" stroke-width="1.3"/>
<line x1="459.96" y1="408.8" x2="459.96" y2="411.3" stroke="#000" stroke-width="1.3"/>
<line x1="461.81" y1="408.8" x2="461.81" y2="411.3" stroke="#000" stroke-width="1.3"/>
<line x1="463.38" y1="408.8" x2="463.38" y2="411.3" stroke="#000" stroke-width="1.3"/>
<line x1="464.73" y1="408.8" x2="464.73" y2="411.3" stroke="#000" stroke-width="1.3"/>
<line x1="465.93" y1="408.8" x2="465.93" y2="411.3" stroke="#000" stroke-width="1.3"/>
<text class="tx" transform="translate(445.37,422.20) scale(0.76,1)" text-anchor="end">10</text>
<text class="sp" transform="translate(445.97,417.90) scale(0.84,1)">1</text>
<line x1="467.00" y1="408.8" x2="467.00" y2="412.40000000000003" stroke="#000" stroke-width="1.2"/>
<line x1="474.04" y1="408.8" x2="474.04" y2="411.3" stroke="#000" stroke-width="1.3"/>
<line x1="478.16" y1="408.8" x2="478.16" y2="411.3" stroke="#000" stroke-width="1.3"/>
<line x1="481.09" y1="408.8" x2="481.09" y2="411.3" stroke="#000" stroke-width="1.3"/>
<line x1="483.36" y1="408.8" x2="483.36" y2="411.3" stroke="#000" stroke-width="1.3"/>
<line x1="485.21" y1="408.8" x2="485.21" y2="411.3" stroke="#000" stroke-width="1.3"/>
<line x1="486.78" y1="408.8" x2="486.78" y2="411.3" stroke="#000" stroke-width="1.3"/>
<line x1="488.13" y1="408.8" x2="488.13" y2="411.3" stroke="#000" stroke-width="1.3"/>
<line x1="489.33" y1="408.8" x2="489.33" y2="411.3" stroke="#000" stroke-width="1.3"/>
<text class="tx" transform="translate(468.15,422.20) scale(0.76,1)" text-anchor="end">10</text>
<text class="sp" transform="translate(468.75,417.90) scale(0.84,1)">2</text>
<line x1="490.40" y1="408.8" x2="490.40" y2="412.40000000000003" stroke="#000" stroke-width="1.2"/>
<line x1="497.44" y1="408.8" x2="497.44" y2="411.3" stroke="#000" stroke-width="1.3"/>
<line x1="501.56" y1="408.8" x2="501.56" y2="411.3" stroke="#000" stroke-width="1.3"/>
<line x1="504.49" y1="408.8" x2="504.49" y2="411.3" stroke="#000" stroke-width="1.3"/>
<line x1="506.76" y1="408.8" x2="506.76" y2="411.3" stroke="#000" stroke-width="1.3"/>
<line x1="508.61" y1="408.8" x2="508.61" y2="411.3" stroke="#000" stroke-width="1.3"/>
<line x1="510.18" y1="408.8" x2="510.18" y2="411.3" stroke="#000" stroke-width="1.3"/>
<line x1="511.53" y1="408.8" x2="511.53" y2="411.3" stroke="#000" stroke-width="1.3"/>
<line x1="512.73" y1="408.8" x2="512.73" y2="411.3" stroke="#000" stroke-width="1.3"/>
<text class="tx" transform="translate(490.92,422.20) scale(0.76,1)" text-anchor="end">10</text>
<text class="sp" transform="translate(491.52,417.90) scale(0.84,1)">3</text>
<line x1="513.80" y1="408.8" x2="513.80" y2="412.40000000000003" stroke="#000" stroke-width="1.2"/>
<text class="tx" transform="translate(513.70,422.20) scale(0.76,1)" text-anchor="end">10</text>
<text class="sp" transform="translate(514.30,417.90) scale(0.84,1)">4</text>
<text class="xl" font-size="8.3" stroke-width="0.35" transform="translate(466.00,430.40) scale(0.87,1)" text-anchor="middle">fitc</text>
</g>
<g filter="url(#bl)">
<text class="big" transform="translate(142.3,25.3) scale(0.995,1)" font-size="34.5" stroke="#000" stroke-width="0.45">CD59</text>
<text class="big" transform="translate(275.1,25.3) scale(0.995,1)" font-size="34.5" stroke="#000" stroke-width="0.45">CD55</text>
<text class="big" transform="translate(419.0,25.3) scale(0.995,1)" font-size="34.5" stroke="#000" stroke-width="0.45">CD46</text>
<text class="big" transform="translate(0.2,125.0) scale(0.974,1)" font-size="34.6" stroke="#000" stroke-width="0.45">DHL-4</text>
<text class="big" transform="translate(0.2,260.4) scale(0.974,1)" font-size="34.6" stroke="#000" stroke-width="0.45">FL-18</text>
<text class="big" transform="translate(0.3,378.7) scale(0.974,1)" font-size="34.6" stroke="#000" stroke-width="0.45">Tab</text>
</g>
</svg>
</body></html>
